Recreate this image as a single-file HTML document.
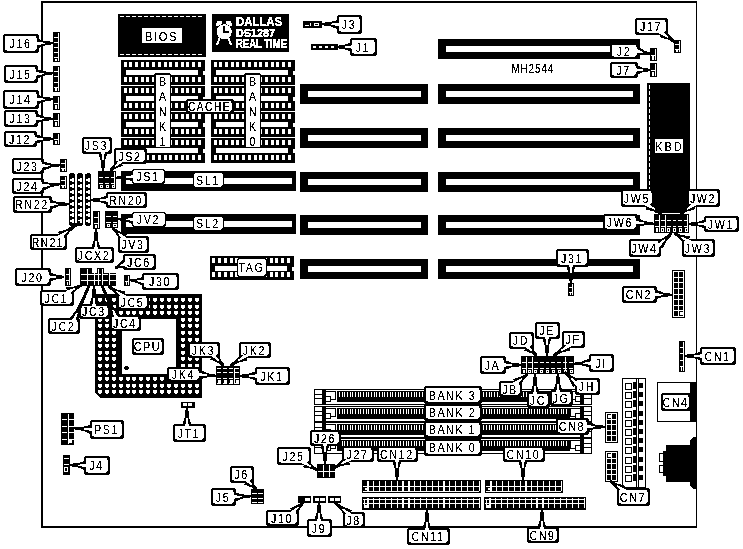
<!DOCTYPE html>
<html><head><meta charset="utf-8"><style>
html,body{margin:0;padding:0;background:#fff;}
svg{display:block;font-family:"Liberation Sans",sans-serif;}
</style></head><body>
<svg width="743" height="549" viewBox="0 0 743 549" shape-rendering="crispEdges">
<defs><filter id="th" x="0" y="0" width="743" height="549" filterUnits="userSpaceOnUse" color-interpolation-filters="sRGB"><feColorMatrix type="matrix" values="0 0 0 0 0  0 0 0 0 0  0 0 0 0 0  0 0 0 1 0"/><feComponentTransfer><feFuncA type="discrete" tableValues="0 0 1 1 1"/></feComponentTransfer></filter>
<filter id="thw" x="0" y="0" width="743" height="549" filterUnits="userSpaceOnUse" color-interpolation-filters="sRGB"><feColorMatrix type="matrix" values="0 0 0 0 1  0 0 0 0 1  0 0 0 0 1  0 0 0 1 0"/><feComponentTransfer><feFuncA type="discrete" tableValues="0 1 1 1 1"/></feComponentTransfer></filter></defs>
<rect x="0" y="0" width="743" height="549" fill="#fff"/>
<rect x="41.00" y="1.00" width="656.00" height="2.00" fill="#000" />
<rect x="41.00" y="1.00" width="2.00" height="527.00" fill="#000" />
<rect x="696.00" y="1.00" width="1.00" height="527.00" fill="#000" />
<rect x="41.00" y="526.00" width="656.00" height="2.00" fill="#000" />
<rect x="438.00" y="39.00" width="202.00" height="20.00" fill="#000" />
<rect x="446.00" y="46.00" width="187.00" height="6.00" fill="#fff" />
<rect x="438.00" y="84.00" width="202.00" height="20.00" fill="#000" />
<rect x="446.00" y="91.00" width="187.00" height="6.00" fill="#fff" />
<rect x="438.00" y="128.00" width="202.00" height="20.00" fill="#000" />
<rect x="446.00" y="135.00" width="187.00" height="6.00" fill="#fff" />
<rect x="438.00" y="172.00" width="202.00" height="20.00" fill="#000" />
<rect x="446.00" y="179.00" width="187.00" height="6.00" fill="#fff" />
<rect x="438.00" y="215.00" width="202.00" height="20.00" fill="#000" />
<rect x="446.00" y="222.00" width="187.00" height="6.00" fill="#fff" />
<rect x="438.00" y="259.00" width="202.00" height="20.00" fill="#000" />
<rect x="446.00" y="266.00" width="187.00" height="6.00" fill="#fff" />
<rect x="300.00" y="84.00" width="128.00" height="20.00" fill="#000" />
<rect x="308.00" y="91.00" width="113.00" height="6.00" fill="#fff" />
<rect x="300.00" y="128.00" width="128.00" height="20.00" fill="#000" />
<rect x="308.00" y="135.00" width="113.00" height="6.00" fill="#fff" />
<rect x="300.00" y="172.00" width="128.00" height="20.00" fill="#000" />
<rect x="308.00" y="179.00" width="113.00" height="6.00" fill="#fff" />
<rect x="300.00" y="215.00" width="128.00" height="20.00" fill="#000" />
<rect x="308.00" y="222.00" width="113.00" height="6.00" fill="#fff" />
<rect x="300.00" y="259.00" width="128.00" height="20.00" fill="#000" />
<rect x="308.00" y="266.00" width="113.00" height="6.00" fill="#fff" />
<rect x="121.00" y="171.00" width="175.00" height="20.00" fill="#000" />
<rect x="126.00" y="178.00" width="166.00" height="6.00" fill="#fff" />
<rect x="121.00" y="214.00" width="175.00" height="20.00" fill="#000" />
<rect x="126.00" y="221.00" width="166.00" height="6.00" fill="#fff" />
<rect x="118.00" y="14.00" width="88.00" height="43.00" fill="#000" />
<rect x="120.00" y="16.00" width="4.00" height="1.00" fill="#fff" />
<rect x="120.00" y="54.00" width="4.00" height="1.00" fill="#fff" />
<rect x="126.00" y="16.00" width="4.00" height="1.00" fill="#fff" />
<rect x="126.00" y="54.00" width="4.00" height="1.00" fill="#fff" />
<rect x="132.00" y="16.00" width="4.00" height="1.00" fill="#fff" />
<rect x="132.00" y="54.00" width="4.00" height="1.00" fill="#fff" />
<rect x="138.00" y="16.00" width="4.00" height="1.00" fill="#fff" />
<rect x="138.00" y="54.00" width="4.00" height="1.00" fill="#fff" />
<rect x="144.00" y="16.00" width="4.00" height="1.00" fill="#fff" />
<rect x="144.00" y="54.00" width="4.00" height="1.00" fill="#fff" />
<rect x="150.00" y="16.00" width="4.00" height="1.00" fill="#fff" />
<rect x="150.00" y="54.00" width="4.00" height="1.00" fill="#fff" />
<rect x="156.00" y="16.00" width="4.00" height="1.00" fill="#fff" />
<rect x="156.00" y="54.00" width="4.00" height="1.00" fill="#fff" />
<rect x="162.00" y="16.00" width="4.00" height="1.00" fill="#fff" />
<rect x="162.00" y="54.00" width="4.00" height="1.00" fill="#fff" />
<rect x="168.00" y="16.00" width="4.00" height="1.00" fill="#fff" />
<rect x="168.00" y="54.00" width="4.00" height="1.00" fill="#fff" />
<rect x="174.00" y="16.00" width="4.00" height="1.00" fill="#fff" />
<rect x="174.00" y="54.00" width="4.00" height="1.00" fill="#fff" />
<rect x="180.00" y="16.00" width="4.00" height="1.00" fill="#fff" />
<rect x="180.00" y="54.00" width="4.00" height="1.00" fill="#fff" />
<rect x="186.00" y="16.00" width="4.00" height="1.00" fill="#fff" />
<rect x="186.00" y="54.00" width="4.00" height="1.00" fill="#fff" />
<rect x="192.00" y="16.00" width="4.00" height="1.00" fill="#fff" />
<rect x="192.00" y="54.00" width="4.00" height="1.00" fill="#fff" />
<rect x="198.00" y="16.00" width="4.00" height="1.00" fill="#fff" />
<rect x="198.00" y="54.00" width="4.00" height="1.00" fill="#fff" />
<rect x="142.00" y="28.00" width="40.00" height="15.00" fill="#fff" />
<rect x="212.00" y="14.00" width="77.00" height="38.00" fill="#000" />
<circle cx="224.2" cy="31.8" r="7.6" fill="#fff"/>
<rect x="223.00" y="26.00" width="2.00" height="7.00" fill="#000" />
<rect x="224.00" y="31.00" width="5.00" height="2.00" fill="#000" />
<polygon points="215.50,26.00 217.00,21.50 221.50,21.00 222.00,23.50 218.50,26.00" fill="#fff" />
<polygon points="232.50,26.00 231.00,21.50 226.50,21.00 226.00,23.50 229.50,26.00" fill="#fff" />
<line x1="219.5" y1="38" x2="217" y2="45" stroke="#fff" stroke-width="2"/>
<line x1="228.5" y1="38" x2="231" y2="45" stroke="#fff" stroke-width="2"/>
<rect x="121.00" y="60.00" width="84.00" height="25.00" fill="#000" />
<rect x="124.00" y="62.00" width="3.00" height="5.00" fill="#fff" />
<rect x="124.00" y="77.00" width="3.00" height="5.00" fill="#fff" />
<rect x="129.00" y="62.00" width="3.00" height="5.00" fill="#fff" />
<rect x="129.00" y="77.00" width="3.00" height="5.00" fill="#fff" />
<rect x="135.00" y="62.00" width="3.00" height="5.00" fill="#fff" />
<rect x="135.00" y="77.00" width="3.00" height="5.00" fill="#fff" />
<rect x="141.00" y="62.00" width="3.00" height="5.00" fill="#fff" />
<rect x="141.00" y="77.00" width="3.00" height="5.00" fill="#fff" />
<rect x="146.00" y="62.00" width="3.00" height="5.00" fill="#fff" />
<rect x="146.00" y="77.00" width="3.00" height="5.00" fill="#fff" />
<rect x="152.00" y="62.00" width="3.00" height="5.00" fill="#fff" />
<rect x="152.00" y="77.00" width="3.00" height="5.00" fill="#fff" />
<rect x="158.00" y="62.00" width="3.00" height="5.00" fill="#fff" />
<rect x="158.00" y="77.00" width="3.00" height="5.00" fill="#fff" />
<rect x="164.00" y="62.00" width="3.00" height="5.00" fill="#fff" />
<rect x="164.00" y="77.00" width="3.00" height="5.00" fill="#fff" />
<rect x="169.00" y="62.00" width="3.00" height="5.00" fill="#fff" />
<rect x="169.00" y="77.00" width="3.00" height="5.00" fill="#fff" />
<rect x="175.00" y="62.00" width="3.00" height="5.00" fill="#fff" />
<rect x="175.00" y="77.00" width="3.00" height="5.00" fill="#fff" />
<rect x="181.00" y="62.00" width="3.00" height="5.00" fill="#fff" />
<rect x="181.00" y="77.00" width="3.00" height="5.00" fill="#fff" />
<rect x="186.00" y="62.00" width="3.00" height="5.00" fill="#fff" />
<rect x="186.00" y="77.00" width="3.00" height="5.00" fill="#fff" />
<rect x="192.00" y="62.00" width="3.00" height="5.00" fill="#fff" />
<rect x="192.00" y="77.00" width="3.00" height="5.00" fill="#fff" />
<rect x="198.00" y="62.00" width="3.00" height="5.00" fill="#fff" />
<rect x="198.00" y="77.00" width="3.00" height="5.00" fill="#fff" />
<rect x="126.00" y="70.00" width="72.00" height="5.00" fill="#fff" />
<rect x="203.00" y="70.50" width="2.00" height="4.00" fill="#fff" />
<rect x="211.00" y="60.00" width="84.00" height="25.00" fill="#000" />
<rect x="214.00" y="62.00" width="3.00" height="5.00" fill="#fff" />
<rect x="214.00" y="77.00" width="3.00" height="5.00" fill="#fff" />
<rect x="219.00" y="62.00" width="3.00" height="5.00" fill="#fff" />
<rect x="219.00" y="77.00" width="3.00" height="5.00" fill="#fff" />
<rect x="225.00" y="62.00" width="3.00" height="5.00" fill="#fff" />
<rect x="225.00" y="77.00" width="3.00" height="5.00" fill="#fff" />
<rect x="231.00" y="62.00" width="3.00" height="5.00" fill="#fff" />
<rect x="231.00" y="77.00" width="3.00" height="5.00" fill="#fff" />
<rect x="236.00" y="62.00" width="3.00" height="5.00" fill="#fff" />
<rect x="236.00" y="77.00" width="3.00" height="5.00" fill="#fff" />
<rect x="242.00" y="62.00" width="3.00" height="5.00" fill="#fff" />
<rect x="242.00" y="77.00" width="3.00" height="5.00" fill="#fff" />
<rect x="248.00" y="62.00" width="3.00" height="5.00" fill="#fff" />
<rect x="248.00" y="77.00" width="3.00" height="5.00" fill="#fff" />
<rect x="254.00" y="62.00" width="3.00" height="5.00" fill="#fff" />
<rect x="254.00" y="77.00" width="3.00" height="5.00" fill="#fff" />
<rect x="259.00" y="62.00" width="3.00" height="5.00" fill="#fff" />
<rect x="259.00" y="77.00" width="3.00" height="5.00" fill="#fff" />
<rect x="265.00" y="62.00" width="3.00" height="5.00" fill="#fff" />
<rect x="265.00" y="77.00" width="3.00" height="5.00" fill="#fff" />
<rect x="271.00" y="62.00" width="3.00" height="5.00" fill="#fff" />
<rect x="271.00" y="77.00" width="3.00" height="5.00" fill="#fff" />
<rect x="276.00" y="62.00" width="3.00" height="5.00" fill="#fff" />
<rect x="276.00" y="77.00" width="3.00" height="5.00" fill="#fff" />
<rect x="282.00" y="62.00" width="3.00" height="5.00" fill="#fff" />
<rect x="282.00" y="77.00" width="3.00" height="5.00" fill="#fff" />
<rect x="288.00" y="62.00" width="3.00" height="5.00" fill="#fff" />
<rect x="288.00" y="77.00" width="3.00" height="5.00" fill="#fff" />
<rect x="216.00" y="70.00" width="72.00" height="5.00" fill="#fff" />
<rect x="293.00" y="70.50" width="2.00" height="4.00" fill="#fff" />
<rect x="121.00" y="86.00" width="84.00" height="25.00" fill="#000" />
<rect x="124.00" y="88.00" width="3.00" height="5.00" fill="#fff" />
<rect x="124.00" y="103.00" width="3.00" height="5.00" fill="#fff" />
<rect x="129.00" y="88.00" width="3.00" height="5.00" fill="#fff" />
<rect x="129.00" y="103.00" width="3.00" height="5.00" fill="#fff" />
<rect x="135.00" y="88.00" width="3.00" height="5.00" fill="#fff" />
<rect x="135.00" y="103.00" width="3.00" height="5.00" fill="#fff" />
<rect x="141.00" y="88.00" width="3.00" height="5.00" fill="#fff" />
<rect x="141.00" y="103.00" width="3.00" height="5.00" fill="#fff" />
<rect x="146.00" y="88.00" width="3.00" height="5.00" fill="#fff" />
<rect x="146.00" y="103.00" width="3.00" height="5.00" fill="#fff" />
<rect x="152.00" y="88.00" width="3.00" height="5.00" fill="#fff" />
<rect x="152.00" y="103.00" width="3.00" height="5.00" fill="#fff" />
<rect x="158.00" y="88.00" width="3.00" height="5.00" fill="#fff" />
<rect x="158.00" y="103.00" width="3.00" height="5.00" fill="#fff" />
<rect x="164.00" y="88.00" width="3.00" height="5.00" fill="#fff" />
<rect x="164.00" y="103.00" width="3.00" height="5.00" fill="#fff" />
<rect x="169.00" y="88.00" width="3.00" height="5.00" fill="#fff" />
<rect x="169.00" y="103.00" width="3.00" height="5.00" fill="#fff" />
<rect x="175.00" y="88.00" width="3.00" height="5.00" fill="#fff" />
<rect x="175.00" y="103.00" width="3.00" height="5.00" fill="#fff" />
<rect x="181.00" y="88.00" width="3.00" height="5.00" fill="#fff" />
<rect x="181.00" y="103.00" width="3.00" height="5.00" fill="#fff" />
<rect x="186.00" y="88.00" width="3.00" height="5.00" fill="#fff" />
<rect x="186.00" y="103.00" width="3.00" height="5.00" fill="#fff" />
<rect x="192.00" y="88.00" width="3.00" height="5.00" fill="#fff" />
<rect x="192.00" y="103.00" width="3.00" height="5.00" fill="#fff" />
<rect x="198.00" y="88.00" width="3.00" height="5.00" fill="#fff" />
<rect x="198.00" y="103.00" width="3.00" height="5.00" fill="#fff" />
<rect x="126.00" y="96.00" width="72.00" height="5.00" fill="#fff" />
<rect x="203.00" y="96.50" width="2.00" height="4.00" fill="#fff" />
<rect x="211.00" y="86.00" width="84.00" height="25.00" fill="#000" />
<rect x="214.00" y="88.00" width="3.00" height="5.00" fill="#fff" />
<rect x="214.00" y="103.00" width="3.00" height="5.00" fill="#fff" />
<rect x="219.00" y="88.00" width="3.00" height="5.00" fill="#fff" />
<rect x="219.00" y="103.00" width="3.00" height="5.00" fill="#fff" />
<rect x="225.00" y="88.00" width="3.00" height="5.00" fill="#fff" />
<rect x="225.00" y="103.00" width="3.00" height="5.00" fill="#fff" />
<rect x="231.00" y="88.00" width="3.00" height="5.00" fill="#fff" />
<rect x="231.00" y="103.00" width="3.00" height="5.00" fill="#fff" />
<rect x="236.00" y="88.00" width="3.00" height="5.00" fill="#fff" />
<rect x="236.00" y="103.00" width="3.00" height="5.00" fill="#fff" />
<rect x="242.00" y="88.00" width="3.00" height="5.00" fill="#fff" />
<rect x="242.00" y="103.00" width="3.00" height="5.00" fill="#fff" />
<rect x="248.00" y="88.00" width="3.00" height="5.00" fill="#fff" />
<rect x="248.00" y="103.00" width="3.00" height="5.00" fill="#fff" />
<rect x="254.00" y="88.00" width="3.00" height="5.00" fill="#fff" />
<rect x="254.00" y="103.00" width="3.00" height="5.00" fill="#fff" />
<rect x="259.00" y="88.00" width="3.00" height="5.00" fill="#fff" />
<rect x="259.00" y="103.00" width="3.00" height="5.00" fill="#fff" />
<rect x="265.00" y="88.00" width="3.00" height="5.00" fill="#fff" />
<rect x="265.00" y="103.00" width="3.00" height="5.00" fill="#fff" />
<rect x="271.00" y="88.00" width="3.00" height="5.00" fill="#fff" />
<rect x="271.00" y="103.00" width="3.00" height="5.00" fill="#fff" />
<rect x="276.00" y="88.00" width="3.00" height="5.00" fill="#fff" />
<rect x="276.00" y="103.00" width="3.00" height="5.00" fill="#fff" />
<rect x="282.00" y="88.00" width="3.00" height="5.00" fill="#fff" />
<rect x="282.00" y="103.00" width="3.00" height="5.00" fill="#fff" />
<rect x="288.00" y="88.00" width="3.00" height="5.00" fill="#fff" />
<rect x="288.00" y="103.00" width="3.00" height="5.00" fill="#fff" />
<rect x="216.00" y="96.00" width="72.00" height="5.00" fill="#fff" />
<rect x="293.00" y="96.50" width="2.00" height="4.00" fill="#fff" />
<rect x="121.00" y="112.00" width="84.00" height="25.00" fill="#000" />
<rect x="124.00" y="114.00" width="3.00" height="5.00" fill="#fff" />
<rect x="124.00" y="129.00" width="3.00" height="5.00" fill="#fff" />
<rect x="129.00" y="114.00" width="3.00" height="5.00" fill="#fff" />
<rect x="129.00" y="129.00" width="3.00" height="5.00" fill="#fff" />
<rect x="135.00" y="114.00" width="3.00" height="5.00" fill="#fff" />
<rect x="135.00" y="129.00" width="3.00" height="5.00" fill="#fff" />
<rect x="141.00" y="114.00" width="3.00" height="5.00" fill="#fff" />
<rect x="141.00" y="129.00" width="3.00" height="5.00" fill="#fff" />
<rect x="146.00" y="114.00" width="3.00" height="5.00" fill="#fff" />
<rect x="146.00" y="129.00" width="3.00" height="5.00" fill="#fff" />
<rect x="152.00" y="114.00" width="3.00" height="5.00" fill="#fff" />
<rect x="152.00" y="129.00" width="3.00" height="5.00" fill="#fff" />
<rect x="158.00" y="114.00" width="3.00" height="5.00" fill="#fff" />
<rect x="158.00" y="129.00" width="3.00" height="5.00" fill="#fff" />
<rect x="164.00" y="114.00" width="3.00" height="5.00" fill="#fff" />
<rect x="164.00" y="129.00" width="3.00" height="5.00" fill="#fff" />
<rect x="169.00" y="114.00" width="3.00" height="5.00" fill="#fff" />
<rect x="169.00" y="129.00" width="3.00" height="5.00" fill="#fff" />
<rect x="175.00" y="114.00" width="3.00" height="5.00" fill="#fff" />
<rect x="175.00" y="129.00" width="3.00" height="5.00" fill="#fff" />
<rect x="181.00" y="114.00" width="3.00" height="5.00" fill="#fff" />
<rect x="181.00" y="129.00" width="3.00" height="5.00" fill="#fff" />
<rect x="186.00" y="114.00" width="3.00" height="5.00" fill="#fff" />
<rect x="186.00" y="129.00" width="3.00" height="5.00" fill="#fff" />
<rect x="192.00" y="114.00" width="3.00" height="5.00" fill="#fff" />
<rect x="192.00" y="129.00" width="3.00" height="5.00" fill="#fff" />
<rect x="198.00" y="114.00" width="3.00" height="5.00" fill="#fff" />
<rect x="198.00" y="129.00" width="3.00" height="5.00" fill="#fff" />
<rect x="126.00" y="122.00" width="72.00" height="5.00" fill="#fff" />
<rect x="203.00" y="122.50" width="2.00" height="4.00" fill="#fff" />
<rect x="211.00" y="112.00" width="84.00" height="25.00" fill="#000" />
<rect x="214.00" y="114.00" width="3.00" height="5.00" fill="#fff" />
<rect x="214.00" y="129.00" width="3.00" height="5.00" fill="#fff" />
<rect x="219.00" y="114.00" width="3.00" height="5.00" fill="#fff" />
<rect x="219.00" y="129.00" width="3.00" height="5.00" fill="#fff" />
<rect x="225.00" y="114.00" width="3.00" height="5.00" fill="#fff" />
<rect x="225.00" y="129.00" width="3.00" height="5.00" fill="#fff" />
<rect x="231.00" y="114.00" width="3.00" height="5.00" fill="#fff" />
<rect x="231.00" y="129.00" width="3.00" height="5.00" fill="#fff" />
<rect x="236.00" y="114.00" width="3.00" height="5.00" fill="#fff" />
<rect x="236.00" y="129.00" width="3.00" height="5.00" fill="#fff" />
<rect x="242.00" y="114.00" width="3.00" height="5.00" fill="#fff" />
<rect x="242.00" y="129.00" width="3.00" height="5.00" fill="#fff" />
<rect x="248.00" y="114.00" width="3.00" height="5.00" fill="#fff" />
<rect x="248.00" y="129.00" width="3.00" height="5.00" fill="#fff" />
<rect x="254.00" y="114.00" width="3.00" height="5.00" fill="#fff" />
<rect x="254.00" y="129.00" width="3.00" height="5.00" fill="#fff" />
<rect x="259.00" y="114.00" width="3.00" height="5.00" fill="#fff" />
<rect x="259.00" y="129.00" width="3.00" height="5.00" fill="#fff" />
<rect x="265.00" y="114.00" width="3.00" height="5.00" fill="#fff" />
<rect x="265.00" y="129.00" width="3.00" height="5.00" fill="#fff" />
<rect x="271.00" y="114.00" width="3.00" height="5.00" fill="#fff" />
<rect x="271.00" y="129.00" width="3.00" height="5.00" fill="#fff" />
<rect x="276.00" y="114.00" width="3.00" height="5.00" fill="#fff" />
<rect x="276.00" y="129.00" width="3.00" height="5.00" fill="#fff" />
<rect x="282.00" y="114.00" width="3.00" height="5.00" fill="#fff" />
<rect x="282.00" y="129.00" width="3.00" height="5.00" fill="#fff" />
<rect x="288.00" y="114.00" width="3.00" height="5.00" fill="#fff" />
<rect x="288.00" y="129.00" width="3.00" height="5.00" fill="#fff" />
<rect x="216.00" y="122.00" width="72.00" height="5.00" fill="#fff" />
<rect x="293.00" y="122.50" width="2.00" height="4.00" fill="#fff" />
<rect x="121.00" y="138.00" width="84.00" height="25.00" fill="#000" />
<rect x="124.00" y="140.00" width="3.00" height="5.00" fill="#fff" />
<rect x="124.00" y="155.00" width="3.00" height="5.00" fill="#fff" />
<rect x="129.00" y="140.00" width="3.00" height="5.00" fill="#fff" />
<rect x="129.00" y="155.00" width="3.00" height="5.00" fill="#fff" />
<rect x="135.00" y="140.00" width="3.00" height="5.00" fill="#fff" />
<rect x="135.00" y="155.00" width="3.00" height="5.00" fill="#fff" />
<rect x="141.00" y="140.00" width="3.00" height="5.00" fill="#fff" />
<rect x="141.00" y="155.00" width="3.00" height="5.00" fill="#fff" />
<rect x="146.00" y="140.00" width="3.00" height="5.00" fill="#fff" />
<rect x="146.00" y="155.00" width="3.00" height="5.00" fill="#fff" />
<rect x="152.00" y="140.00" width="3.00" height="5.00" fill="#fff" />
<rect x="152.00" y="155.00" width="3.00" height="5.00" fill="#fff" />
<rect x="158.00" y="140.00" width="3.00" height="5.00" fill="#fff" />
<rect x="158.00" y="155.00" width="3.00" height="5.00" fill="#fff" />
<rect x="164.00" y="140.00" width="3.00" height="5.00" fill="#fff" />
<rect x="164.00" y="155.00" width="3.00" height="5.00" fill="#fff" />
<rect x="169.00" y="140.00" width="3.00" height="5.00" fill="#fff" />
<rect x="169.00" y="155.00" width="3.00" height="5.00" fill="#fff" />
<rect x="175.00" y="140.00" width="3.00" height="5.00" fill="#fff" />
<rect x="175.00" y="155.00" width="3.00" height="5.00" fill="#fff" />
<rect x="181.00" y="140.00" width="3.00" height="5.00" fill="#fff" />
<rect x="181.00" y="155.00" width="3.00" height="5.00" fill="#fff" />
<rect x="186.00" y="140.00" width="3.00" height="5.00" fill="#fff" />
<rect x="186.00" y="155.00" width="3.00" height="5.00" fill="#fff" />
<rect x="192.00" y="140.00" width="3.00" height="5.00" fill="#fff" />
<rect x="192.00" y="155.00" width="3.00" height="5.00" fill="#fff" />
<rect x="198.00" y="140.00" width="3.00" height="5.00" fill="#fff" />
<rect x="198.00" y="155.00" width="3.00" height="5.00" fill="#fff" />
<rect x="126.00" y="148.00" width="72.00" height="5.00" fill="#fff" />
<rect x="203.00" y="148.50" width="2.00" height="4.00" fill="#fff" />
<rect x="211.00" y="138.00" width="84.00" height="25.00" fill="#000" />
<rect x="214.00" y="140.00" width="3.00" height="5.00" fill="#fff" />
<rect x="214.00" y="155.00" width="3.00" height="5.00" fill="#fff" />
<rect x="219.00" y="140.00" width="3.00" height="5.00" fill="#fff" />
<rect x="219.00" y="155.00" width="3.00" height="5.00" fill="#fff" />
<rect x="225.00" y="140.00" width="3.00" height="5.00" fill="#fff" />
<rect x="225.00" y="155.00" width="3.00" height="5.00" fill="#fff" />
<rect x="231.00" y="140.00" width="3.00" height="5.00" fill="#fff" />
<rect x="231.00" y="155.00" width="3.00" height="5.00" fill="#fff" />
<rect x="236.00" y="140.00" width="3.00" height="5.00" fill="#fff" />
<rect x="236.00" y="155.00" width="3.00" height="5.00" fill="#fff" />
<rect x="242.00" y="140.00" width="3.00" height="5.00" fill="#fff" />
<rect x="242.00" y="155.00" width="3.00" height="5.00" fill="#fff" />
<rect x="248.00" y="140.00" width="3.00" height="5.00" fill="#fff" />
<rect x="248.00" y="155.00" width="3.00" height="5.00" fill="#fff" />
<rect x="254.00" y="140.00" width="3.00" height="5.00" fill="#fff" />
<rect x="254.00" y="155.00" width="3.00" height="5.00" fill="#fff" />
<rect x="259.00" y="140.00" width="3.00" height="5.00" fill="#fff" />
<rect x="259.00" y="155.00" width="3.00" height="5.00" fill="#fff" />
<rect x="265.00" y="140.00" width="3.00" height="5.00" fill="#fff" />
<rect x="265.00" y="155.00" width="3.00" height="5.00" fill="#fff" />
<rect x="271.00" y="140.00" width="3.00" height="5.00" fill="#fff" />
<rect x="271.00" y="155.00" width="3.00" height="5.00" fill="#fff" />
<rect x="276.00" y="140.00" width="3.00" height="5.00" fill="#fff" />
<rect x="276.00" y="155.00" width="3.00" height="5.00" fill="#fff" />
<rect x="282.00" y="140.00" width="3.00" height="5.00" fill="#fff" />
<rect x="282.00" y="155.00" width="3.00" height="5.00" fill="#fff" />
<rect x="288.00" y="140.00" width="3.00" height="5.00" fill="#fff" />
<rect x="288.00" y="155.00" width="3.00" height="5.00" fill="#fff" />
<rect x="216.00" y="148.00" width="72.00" height="5.00" fill="#fff" />
<rect x="293.00" y="148.50" width="2.00" height="4.00" fill="#fff" />
<rect x="647.00" y="83.00" width="43.00" height="122.00" fill="#000" />
<polygon points="647.00,205.00 690.00,205.00 682.00,213.00 655.00,213.00" fill="#000" />
<rect x="649.00" y="85.00" width="1.00" height="4.00" fill="#fff" />
<rect x="649.00" y="91.00" width="1.00" height="4.00" fill="#fff" />
<rect x="649.00" y="97.00" width="1.00" height="4.00" fill="#fff" />
<rect x="649.00" y="103.00" width="1.00" height="4.00" fill="#fff" />
<rect x="649.00" y="109.00" width="1.00" height="4.00" fill="#fff" />
<rect x="649.00" y="115.00" width="1.00" height="4.00" fill="#fff" />
<rect x="649.00" y="121.00" width="1.00" height="4.00" fill="#fff" />
<rect x="649.00" y="127.00" width="1.00" height="4.00" fill="#fff" />
<rect x="649.00" y="133.00" width="1.00" height="4.00" fill="#fff" />
<rect x="649.00" y="139.00" width="1.00" height="4.00" fill="#fff" />
<rect x="649.00" y="145.00" width="1.00" height="4.00" fill="#fff" />
<rect x="649.00" y="151.00" width="1.00" height="4.00" fill="#fff" />
<rect x="649.00" y="157.00" width="1.00" height="4.00" fill="#fff" />
<rect x="649.00" y="163.00" width="1.00" height="4.00" fill="#fff" />
<rect x="649.00" y="169.00" width="1.00" height="4.00" fill="#fff" />
<rect x="649.00" y="175.00" width="1.00" height="4.00" fill="#fff" />
<rect x="649.00" y="181.00" width="1.00" height="4.00" fill="#fff" />
<rect x="649.00" y="187.00" width="1.00" height="4.00" fill="#fff" />
<rect x="649.00" y="193.00" width="1.00" height="4.00" fill="#fff" />
<rect x="649.00" y="199.00" width="1.00" height="4.00" fill="#fff" />
<rect x="655.00" y="139.00" width="28.00" height="14.00" fill="#fff" />
<rect x="95.00" y="294.00" width="107.00" height="104.00" fill="#000" />
<rect x="122.00" y="319.00" width="54.00" height="55.00" fill="#fff" />
<rect x="98.00" y="298.00" width="4.00" height="3.00" fill="#fff" />
<rect x="99.00" y="297.50" width="2.00" height="4.00" fill="#fff" />
<rect x="105.00" y="298.00" width="4.00" height="3.00" fill="#fff" />
<rect x="106.00" y="297.50" width="2.00" height="4.00" fill="#fff" />
<rect x="112.00" y="298.00" width="4.00" height="3.00" fill="#fff" />
<rect x="113.00" y="297.50" width="2.00" height="4.00" fill="#fff" />
<rect x="119.00" y="298.00" width="4.00" height="3.00" fill="#fff" />
<rect x="120.00" y="297.50" width="2.00" height="4.00" fill="#fff" />
<rect x="126.00" y="298.00" width="4.00" height="3.00" fill="#fff" />
<rect x="127.00" y="297.50" width="2.00" height="4.00" fill="#fff" />
<rect x="132.00" y="298.00" width="4.00" height="3.00" fill="#fff" />
<rect x="133.00" y="297.50" width="2.00" height="4.00" fill="#fff" />
<rect x="139.00" y="298.00" width="4.00" height="3.00" fill="#fff" />
<rect x="140.00" y="297.50" width="2.00" height="4.00" fill="#fff" />
<rect x="146.00" y="298.00" width="4.00" height="3.00" fill="#fff" />
<rect x="147.00" y="297.50" width="2.00" height="4.00" fill="#fff" />
<rect x="153.00" y="298.00" width="4.00" height="3.00" fill="#fff" />
<rect x="154.00" y="297.50" width="2.00" height="4.00" fill="#fff" />
<rect x="160.00" y="298.00" width="4.00" height="3.00" fill="#fff" />
<rect x="161.00" y="297.50" width="2.00" height="4.00" fill="#fff" />
<rect x="167.00" y="298.00" width="4.00" height="3.00" fill="#fff" />
<rect x="168.00" y="297.50" width="2.00" height="4.00" fill="#fff" />
<rect x="174.00" y="298.00" width="4.00" height="3.00" fill="#fff" />
<rect x="175.00" y="297.50" width="2.00" height="4.00" fill="#fff" />
<rect x="181.00" y="298.00" width="4.00" height="3.00" fill="#fff" />
<rect x="182.00" y="297.50" width="2.00" height="4.00" fill="#fff" />
<rect x="188.00" y="298.00" width="4.00" height="3.00" fill="#fff" />
<rect x="189.00" y="297.50" width="2.00" height="4.00" fill="#fff" />
<rect x="195.00" y="298.00" width="4.00" height="3.00" fill="#fff" />
<rect x="196.00" y="297.50" width="2.00" height="4.00" fill="#fff" />
<rect x="98.00" y="305.00" width="4.00" height="3.00" fill="#fff" />
<rect x="99.00" y="304.50" width="2.00" height="4.00" fill="#fff" />
<rect x="105.00" y="305.00" width="4.00" height="3.00" fill="#fff" />
<rect x="106.00" y="304.50" width="2.00" height="4.00" fill="#fff" />
<rect x="112.00" y="305.00" width="4.00" height="3.00" fill="#fff" />
<rect x="113.00" y="304.50" width="2.00" height="4.00" fill="#fff" />
<rect x="119.00" y="305.00" width="4.00" height="3.00" fill="#fff" />
<rect x="120.00" y="304.50" width="2.00" height="4.00" fill="#fff" />
<rect x="126.00" y="305.00" width="4.00" height="3.00" fill="#fff" />
<rect x="127.00" y="304.50" width="2.00" height="4.00" fill="#fff" />
<rect x="132.00" y="305.00" width="4.00" height="3.00" fill="#fff" />
<rect x="133.00" y="304.50" width="2.00" height="4.00" fill="#fff" />
<rect x="139.00" y="305.00" width="4.00" height="3.00" fill="#fff" />
<rect x="140.00" y="304.50" width="2.00" height="4.00" fill="#fff" />
<rect x="146.00" y="305.00" width="4.00" height="3.00" fill="#fff" />
<rect x="147.00" y="304.50" width="2.00" height="4.00" fill="#fff" />
<rect x="153.00" y="305.00" width="4.00" height="3.00" fill="#fff" />
<rect x="154.00" y="304.50" width="2.00" height="4.00" fill="#fff" />
<rect x="160.00" y="305.00" width="4.00" height="3.00" fill="#fff" />
<rect x="161.00" y="304.50" width="2.00" height="4.00" fill="#fff" />
<rect x="167.00" y="305.00" width="4.00" height="3.00" fill="#fff" />
<rect x="168.00" y="304.50" width="2.00" height="4.00" fill="#fff" />
<rect x="174.00" y="305.00" width="4.00" height="3.00" fill="#fff" />
<rect x="175.00" y="304.50" width="2.00" height="4.00" fill="#fff" />
<rect x="181.00" y="305.00" width="4.00" height="3.00" fill="#fff" />
<rect x="182.00" y="304.50" width="2.00" height="4.00" fill="#fff" />
<rect x="188.00" y="305.00" width="4.00" height="3.00" fill="#fff" />
<rect x="189.00" y="304.50" width="2.00" height="4.00" fill="#fff" />
<rect x="195.00" y="305.00" width="4.00" height="3.00" fill="#fff" />
<rect x="196.00" y="304.50" width="2.00" height="4.00" fill="#fff" />
<rect x="98.00" y="311.00" width="4.00" height="3.00" fill="#fff" />
<rect x="99.00" y="310.50" width="2.00" height="4.00" fill="#fff" />
<rect x="105.00" y="311.00" width="4.00" height="3.00" fill="#fff" />
<rect x="106.00" y="310.50" width="2.00" height="4.00" fill="#fff" />
<rect x="112.00" y="311.00" width="4.00" height="3.00" fill="#fff" />
<rect x="113.00" y="310.50" width="2.00" height="4.00" fill="#fff" />
<rect x="119.00" y="311.00" width="4.00" height="3.00" fill="#fff" />
<rect x="120.00" y="310.50" width="2.00" height="4.00" fill="#fff" />
<rect x="126.00" y="311.00" width="4.00" height="3.00" fill="#fff" />
<rect x="127.00" y="310.50" width="2.00" height="4.00" fill="#fff" />
<rect x="132.00" y="311.00" width="4.00" height="3.00" fill="#fff" />
<rect x="133.00" y="310.50" width="2.00" height="4.00" fill="#fff" />
<rect x="139.00" y="311.00" width="4.00" height="3.00" fill="#fff" />
<rect x="140.00" y="310.50" width="2.00" height="4.00" fill="#fff" />
<rect x="146.00" y="311.00" width="4.00" height="3.00" fill="#fff" />
<rect x="147.00" y="310.50" width="2.00" height="4.00" fill="#fff" />
<rect x="153.00" y="311.00" width="4.00" height="3.00" fill="#fff" />
<rect x="154.00" y="310.50" width="2.00" height="4.00" fill="#fff" />
<rect x="160.00" y="311.00" width="4.00" height="3.00" fill="#fff" />
<rect x="161.00" y="310.50" width="2.00" height="4.00" fill="#fff" />
<rect x="167.00" y="311.00" width="4.00" height="3.00" fill="#fff" />
<rect x="168.00" y="310.50" width="2.00" height="4.00" fill="#fff" />
<rect x="174.00" y="311.00" width="4.00" height="3.00" fill="#fff" />
<rect x="175.00" y="310.50" width="2.00" height="4.00" fill="#fff" />
<rect x="181.00" y="311.00" width="4.00" height="3.00" fill="#fff" />
<rect x="182.00" y="310.50" width="2.00" height="4.00" fill="#fff" />
<rect x="188.00" y="311.00" width="4.00" height="3.00" fill="#fff" />
<rect x="189.00" y="310.50" width="2.00" height="4.00" fill="#fff" />
<rect x="195.00" y="311.00" width="4.00" height="3.00" fill="#fff" />
<rect x="196.00" y="310.50" width="2.00" height="4.00" fill="#fff" />
<rect x="98.00" y="318.00" width="4.00" height="3.00" fill="#fff" />
<rect x="99.00" y="317.50" width="2.00" height="4.00" fill="#fff" />
<rect x="105.00" y="318.00" width="4.00" height="3.00" fill="#fff" />
<rect x="106.00" y="317.50" width="2.00" height="4.00" fill="#fff" />
<rect x="112.00" y="318.00" width="4.00" height="3.00" fill="#fff" />
<rect x="113.00" y="317.50" width="2.00" height="4.00" fill="#fff" />
<rect x="181.00" y="318.00" width="4.00" height="3.00" fill="#fff" />
<rect x="182.00" y="317.50" width="2.00" height="4.00" fill="#fff" />
<rect x="188.00" y="318.00" width="4.00" height="3.00" fill="#fff" />
<rect x="189.00" y="317.50" width="2.00" height="4.00" fill="#fff" />
<rect x="195.00" y="318.00" width="4.00" height="3.00" fill="#fff" />
<rect x="196.00" y="317.50" width="2.00" height="4.00" fill="#fff" />
<rect x="98.00" y="324.00" width="4.00" height="3.00" fill="#fff" />
<rect x="99.00" y="323.50" width="2.00" height="4.00" fill="#fff" />
<rect x="105.00" y="324.00" width="4.00" height="3.00" fill="#fff" />
<rect x="106.00" y="323.50" width="2.00" height="4.00" fill="#fff" />
<rect x="112.00" y="324.00" width="4.00" height="3.00" fill="#fff" />
<rect x="113.00" y="323.50" width="2.00" height="4.00" fill="#fff" />
<rect x="181.00" y="324.00" width="4.00" height="3.00" fill="#fff" />
<rect x="182.00" y="323.50" width="2.00" height="4.00" fill="#fff" />
<rect x="188.00" y="324.00" width="4.00" height="3.00" fill="#fff" />
<rect x="189.00" y="323.50" width="2.00" height="4.00" fill="#fff" />
<rect x="195.00" y="324.00" width="4.00" height="3.00" fill="#fff" />
<rect x="196.00" y="323.50" width="2.00" height="4.00" fill="#fff" />
<rect x="98.00" y="331.00" width="4.00" height="3.00" fill="#fff" />
<rect x="99.00" y="330.50" width="2.00" height="4.00" fill="#fff" />
<rect x="105.00" y="331.00" width="4.00" height="3.00" fill="#fff" />
<rect x="106.00" y="330.50" width="2.00" height="4.00" fill="#fff" />
<rect x="112.00" y="331.00" width="4.00" height="3.00" fill="#fff" />
<rect x="113.00" y="330.50" width="2.00" height="4.00" fill="#fff" />
<rect x="181.00" y="331.00" width="4.00" height="3.00" fill="#fff" />
<rect x="182.00" y="330.50" width="2.00" height="4.00" fill="#fff" />
<rect x="188.00" y="331.00" width="4.00" height="3.00" fill="#fff" />
<rect x="189.00" y="330.50" width="2.00" height="4.00" fill="#fff" />
<rect x="195.00" y="331.00" width="4.00" height="3.00" fill="#fff" />
<rect x="196.00" y="330.50" width="2.00" height="4.00" fill="#fff" />
<rect x="98.00" y="338.00" width="4.00" height="3.00" fill="#fff" />
<rect x="99.00" y="337.50" width="2.00" height="4.00" fill="#fff" />
<rect x="105.00" y="338.00" width="4.00" height="3.00" fill="#fff" />
<rect x="106.00" y="337.50" width="2.00" height="4.00" fill="#fff" />
<rect x="112.00" y="338.00" width="4.00" height="3.00" fill="#fff" />
<rect x="113.00" y="337.50" width="2.00" height="4.00" fill="#fff" />
<rect x="181.00" y="338.00" width="4.00" height="3.00" fill="#fff" />
<rect x="182.00" y="337.50" width="2.00" height="4.00" fill="#fff" />
<rect x="188.00" y="338.00" width="4.00" height="3.00" fill="#fff" />
<rect x="189.00" y="337.50" width="2.00" height="4.00" fill="#fff" />
<rect x="195.00" y="338.00" width="4.00" height="3.00" fill="#fff" />
<rect x="196.00" y="337.50" width="2.00" height="4.00" fill="#fff" />
<rect x="98.00" y="344.00" width="4.00" height="3.00" fill="#fff" />
<rect x="99.00" y="343.50" width="2.00" height="4.00" fill="#fff" />
<rect x="105.00" y="344.00" width="4.00" height="3.00" fill="#fff" />
<rect x="106.00" y="343.50" width="2.00" height="4.00" fill="#fff" />
<rect x="112.00" y="344.00" width="4.00" height="3.00" fill="#fff" />
<rect x="113.00" y="343.50" width="2.00" height="4.00" fill="#fff" />
<rect x="181.00" y="344.00" width="4.00" height="3.00" fill="#fff" />
<rect x="182.00" y="343.50" width="2.00" height="4.00" fill="#fff" />
<rect x="188.00" y="344.00" width="4.00" height="3.00" fill="#fff" />
<rect x="189.00" y="343.50" width="2.00" height="4.00" fill="#fff" />
<rect x="195.00" y="344.00" width="4.00" height="3.00" fill="#fff" />
<rect x="196.00" y="343.50" width="2.00" height="4.00" fill="#fff" />
<rect x="98.00" y="351.00" width="4.00" height="3.00" fill="#fff" />
<rect x="99.00" y="350.50" width="2.00" height="4.00" fill="#fff" />
<rect x="105.00" y="351.00" width="4.00" height="3.00" fill="#fff" />
<rect x="106.00" y="350.50" width="2.00" height="4.00" fill="#fff" />
<rect x="112.00" y="351.00" width="4.00" height="3.00" fill="#fff" />
<rect x="113.00" y="350.50" width="2.00" height="4.00" fill="#fff" />
<rect x="181.00" y="351.00" width="4.00" height="3.00" fill="#fff" />
<rect x="182.00" y="350.50" width="2.00" height="4.00" fill="#fff" />
<rect x="188.00" y="351.00" width="4.00" height="3.00" fill="#fff" />
<rect x="189.00" y="350.50" width="2.00" height="4.00" fill="#fff" />
<rect x="195.00" y="351.00" width="4.00" height="3.00" fill="#fff" />
<rect x="196.00" y="350.50" width="2.00" height="4.00" fill="#fff" />
<rect x="98.00" y="357.00" width="4.00" height="3.00" fill="#fff" />
<rect x="99.00" y="356.50" width="2.00" height="4.00" fill="#fff" />
<rect x="105.00" y="357.00" width="4.00" height="3.00" fill="#fff" />
<rect x="106.00" y="356.50" width="2.00" height="4.00" fill="#fff" />
<rect x="112.00" y="357.00" width="4.00" height="3.00" fill="#fff" />
<rect x="113.00" y="356.50" width="2.00" height="4.00" fill="#fff" />
<rect x="181.00" y="357.00" width="4.00" height="3.00" fill="#fff" />
<rect x="182.00" y="356.50" width="2.00" height="4.00" fill="#fff" />
<rect x="188.00" y="357.00" width="4.00" height="3.00" fill="#fff" />
<rect x="189.00" y="356.50" width="2.00" height="4.00" fill="#fff" />
<rect x="195.00" y="357.00" width="4.00" height="3.00" fill="#fff" />
<rect x="196.00" y="356.50" width="2.00" height="4.00" fill="#fff" />
<rect x="98.00" y="364.00" width="4.00" height="3.00" fill="#fff" />
<rect x="99.00" y="363.50" width="2.00" height="4.00" fill="#fff" />
<rect x="105.00" y="364.00" width="4.00" height="3.00" fill="#fff" />
<rect x="106.00" y="363.50" width="2.00" height="4.00" fill="#fff" />
<rect x="112.00" y="364.00" width="4.00" height="3.00" fill="#fff" />
<rect x="113.00" y="363.50" width="2.00" height="4.00" fill="#fff" />
<rect x="181.00" y="364.00" width="4.00" height="3.00" fill="#fff" />
<rect x="182.00" y="363.50" width="2.00" height="4.00" fill="#fff" />
<rect x="188.00" y="364.00" width="4.00" height="3.00" fill="#fff" />
<rect x="189.00" y="363.50" width="2.00" height="4.00" fill="#fff" />
<rect x="195.00" y="364.00" width="4.00" height="3.00" fill="#fff" />
<rect x="196.00" y="363.50" width="2.00" height="4.00" fill="#fff" />
<rect x="98.00" y="371.00" width="4.00" height="3.00" fill="#fff" />
<rect x="99.00" y="370.50" width="2.00" height="4.00" fill="#fff" />
<rect x="105.00" y="371.00" width="4.00" height="3.00" fill="#fff" />
<rect x="106.00" y="370.50" width="2.00" height="4.00" fill="#fff" />
<rect x="112.00" y="371.00" width="4.00" height="3.00" fill="#fff" />
<rect x="113.00" y="370.50" width="2.00" height="4.00" fill="#fff" />
<rect x="181.00" y="371.00" width="4.00" height="3.00" fill="#fff" />
<rect x="182.00" y="370.50" width="2.00" height="4.00" fill="#fff" />
<rect x="188.00" y="371.00" width="4.00" height="3.00" fill="#fff" />
<rect x="189.00" y="370.50" width="2.00" height="4.00" fill="#fff" />
<rect x="195.00" y="371.00" width="4.00" height="3.00" fill="#fff" />
<rect x="196.00" y="370.50" width="2.00" height="4.00" fill="#fff" />
<rect x="98.00" y="377.00" width="4.00" height="3.00" fill="#fff" />
<rect x="99.00" y="376.50" width="2.00" height="4.00" fill="#fff" />
<rect x="105.00" y="377.00" width="4.00" height="3.00" fill="#fff" />
<rect x="106.00" y="376.50" width="2.00" height="4.00" fill="#fff" />
<rect x="112.00" y="377.00" width="4.00" height="3.00" fill="#fff" />
<rect x="113.00" y="376.50" width="2.00" height="4.00" fill="#fff" />
<rect x="119.00" y="377.00" width="4.00" height="3.00" fill="#fff" />
<rect x="120.00" y="376.50" width="2.00" height="4.00" fill="#fff" />
<rect x="126.00" y="377.00" width="4.00" height="3.00" fill="#fff" />
<rect x="127.00" y="376.50" width="2.00" height="4.00" fill="#fff" />
<rect x="132.00" y="377.00" width="4.00" height="3.00" fill="#fff" />
<rect x="133.00" y="376.50" width="2.00" height="4.00" fill="#fff" />
<rect x="139.00" y="377.00" width="4.00" height="3.00" fill="#fff" />
<rect x="140.00" y="376.50" width="2.00" height="4.00" fill="#fff" />
<rect x="146.00" y="377.00" width="4.00" height="3.00" fill="#fff" />
<rect x="147.00" y="376.50" width="2.00" height="4.00" fill="#fff" />
<rect x="153.00" y="377.00" width="4.00" height="3.00" fill="#fff" />
<rect x="154.00" y="376.50" width="2.00" height="4.00" fill="#fff" />
<rect x="160.00" y="377.00" width="4.00" height="3.00" fill="#fff" />
<rect x="161.00" y="376.50" width="2.00" height="4.00" fill="#fff" />
<rect x="167.00" y="377.00" width="4.00" height="3.00" fill="#fff" />
<rect x="168.00" y="376.50" width="2.00" height="4.00" fill="#fff" />
<rect x="174.00" y="377.00" width="4.00" height="3.00" fill="#fff" />
<rect x="175.00" y="376.50" width="2.00" height="4.00" fill="#fff" />
<rect x="181.00" y="377.00" width="4.00" height="3.00" fill="#fff" />
<rect x="182.00" y="376.50" width="2.00" height="4.00" fill="#fff" />
<rect x="188.00" y="377.00" width="4.00" height="3.00" fill="#fff" />
<rect x="189.00" y="376.50" width="2.00" height="4.00" fill="#fff" />
<rect x="195.00" y="377.00" width="4.00" height="3.00" fill="#fff" />
<rect x="196.00" y="376.50" width="2.00" height="4.00" fill="#fff" />
<rect x="98.00" y="384.00" width="4.00" height="3.00" fill="#fff" />
<rect x="99.00" y="383.50" width="2.00" height="4.00" fill="#fff" />
<rect x="105.00" y="384.00" width="4.00" height="3.00" fill="#fff" />
<rect x="106.00" y="383.50" width="2.00" height="4.00" fill="#fff" />
<rect x="112.00" y="384.00" width="4.00" height="3.00" fill="#fff" />
<rect x="113.00" y="383.50" width="2.00" height="4.00" fill="#fff" />
<rect x="119.00" y="384.00" width="4.00" height="3.00" fill="#fff" />
<rect x="120.00" y="383.50" width="2.00" height="4.00" fill="#fff" />
<rect x="126.00" y="384.00" width="4.00" height="3.00" fill="#fff" />
<rect x="127.00" y="383.50" width="2.00" height="4.00" fill="#fff" />
<rect x="132.00" y="384.00" width="4.00" height="3.00" fill="#fff" />
<rect x="133.00" y="383.50" width="2.00" height="4.00" fill="#fff" />
<rect x="139.00" y="384.00" width="4.00" height="3.00" fill="#fff" />
<rect x="140.00" y="383.50" width="2.00" height="4.00" fill="#fff" />
<rect x="146.00" y="384.00" width="4.00" height="3.00" fill="#fff" />
<rect x="147.00" y="383.50" width="2.00" height="4.00" fill="#fff" />
<rect x="153.00" y="384.00" width="4.00" height="3.00" fill="#fff" />
<rect x="154.00" y="383.50" width="2.00" height="4.00" fill="#fff" />
<rect x="160.00" y="384.00" width="4.00" height="3.00" fill="#fff" />
<rect x="161.00" y="383.50" width="2.00" height="4.00" fill="#fff" />
<rect x="167.00" y="384.00" width="4.00" height="3.00" fill="#fff" />
<rect x="168.00" y="383.50" width="2.00" height="4.00" fill="#fff" />
<rect x="174.00" y="384.00" width="4.00" height="3.00" fill="#fff" />
<rect x="175.00" y="383.50" width="2.00" height="4.00" fill="#fff" />
<rect x="181.00" y="384.00" width="4.00" height="3.00" fill="#fff" />
<rect x="182.00" y="383.50" width="2.00" height="4.00" fill="#fff" />
<rect x="188.00" y="384.00" width="4.00" height="3.00" fill="#fff" />
<rect x="189.00" y="383.50" width="2.00" height="4.00" fill="#fff" />
<rect x="195.00" y="384.00" width="4.00" height="3.00" fill="#fff" />
<rect x="196.00" y="383.50" width="2.00" height="4.00" fill="#fff" />
<rect x="98.00" y="390.00" width="4.00" height="3.00" fill="#fff" />
<rect x="99.00" y="389.50" width="2.00" height="4.00" fill="#fff" />
<rect x="105.00" y="390.00" width="4.00" height="3.00" fill="#fff" />
<rect x="106.00" y="389.50" width="2.00" height="4.00" fill="#fff" />
<rect x="112.00" y="390.00" width="4.00" height="3.00" fill="#fff" />
<rect x="113.00" y="389.50" width="2.00" height="4.00" fill="#fff" />
<rect x="119.00" y="390.00" width="4.00" height="3.00" fill="#fff" />
<rect x="120.00" y="389.50" width="2.00" height="4.00" fill="#fff" />
<rect x="126.00" y="390.00" width="4.00" height="3.00" fill="#fff" />
<rect x="127.00" y="389.50" width="2.00" height="4.00" fill="#fff" />
<rect x="132.00" y="390.00" width="4.00" height="3.00" fill="#fff" />
<rect x="133.00" y="389.50" width="2.00" height="4.00" fill="#fff" />
<rect x="139.00" y="390.00" width="4.00" height="3.00" fill="#fff" />
<rect x="140.00" y="389.50" width="2.00" height="4.00" fill="#fff" />
<rect x="146.00" y="390.00" width="4.00" height="3.00" fill="#fff" />
<rect x="147.00" y="389.50" width="2.00" height="4.00" fill="#fff" />
<rect x="153.00" y="390.00" width="4.00" height="3.00" fill="#fff" />
<rect x="154.00" y="389.50" width="2.00" height="4.00" fill="#fff" />
<rect x="160.00" y="390.00" width="4.00" height="3.00" fill="#fff" />
<rect x="161.00" y="389.50" width="2.00" height="4.00" fill="#fff" />
<rect x="167.00" y="390.00" width="4.00" height="3.00" fill="#fff" />
<rect x="168.00" y="389.50" width="2.00" height="4.00" fill="#fff" />
<rect x="174.00" y="390.00" width="4.00" height="3.00" fill="#fff" />
<rect x="175.00" y="389.50" width="2.00" height="4.00" fill="#fff" />
<rect x="181.00" y="390.00" width="4.00" height="3.00" fill="#fff" />
<rect x="182.00" y="389.50" width="2.00" height="4.00" fill="#fff" />
<rect x="188.00" y="390.00" width="4.00" height="3.00" fill="#fff" />
<rect x="189.00" y="389.50" width="2.00" height="4.00" fill="#fff" />
<rect x="195.00" y="390.00" width="4.00" height="3.00" fill="#fff" />
<rect x="196.00" y="389.50" width="2.00" height="4.00" fill="#fff" />
<polygon points="94.00,392.00 94.00,399.00 101.00,399.00" fill="#fff" />
<circle cx="126.5" cy="368" r="2.2" fill="#000"/>
<rect x="210.00" y="256.00" width="84.00" height="24.00" fill="#000" />
<rect x="212.00" y="258.00" width="3.00" height="5.00" fill="#fff" />
<rect x="212.00" y="272.00" width="3.00" height="5.00" fill="#fff" />
<rect x="218.00" y="258.00" width="3.00" height="5.00" fill="#fff" />
<rect x="218.00" y="272.00" width="3.00" height="5.00" fill="#fff" />
<rect x="224.00" y="258.00" width="3.00" height="5.00" fill="#fff" />
<rect x="224.00" y="272.00" width="3.00" height="5.00" fill="#fff" />
<rect x="230.00" y="258.00" width="3.00" height="5.00" fill="#fff" />
<rect x="230.00" y="272.00" width="3.00" height="5.00" fill="#fff" />
<rect x="235.00" y="258.00" width="3.00" height="5.00" fill="#fff" />
<rect x="235.00" y="272.00" width="3.00" height="5.00" fill="#fff" />
<rect x="241.00" y="258.00" width="3.00" height="5.00" fill="#fff" />
<rect x="241.00" y="272.00" width="3.00" height="5.00" fill="#fff" />
<rect x="247.00" y="258.00" width="3.00" height="5.00" fill="#fff" />
<rect x="247.00" y="272.00" width="3.00" height="5.00" fill="#fff" />
<rect x="252.00" y="258.00" width="3.00" height="5.00" fill="#fff" />
<rect x="252.00" y="272.00" width="3.00" height="5.00" fill="#fff" />
<rect x="258.00" y="258.00" width="3.00" height="5.00" fill="#fff" />
<rect x="258.00" y="272.00" width="3.00" height="5.00" fill="#fff" />
<rect x="264.00" y="258.00" width="3.00" height="5.00" fill="#fff" />
<rect x="264.00" y="272.00" width="3.00" height="5.00" fill="#fff" />
<rect x="270.00" y="258.00" width="3.00" height="5.00" fill="#fff" />
<rect x="270.00" y="272.00" width="3.00" height="5.00" fill="#fff" />
<rect x="275.00" y="258.00" width="3.00" height="5.00" fill="#fff" />
<rect x="275.00" y="272.00" width="3.00" height="5.00" fill="#fff" />
<rect x="281.00" y="258.00" width="3.00" height="5.00" fill="#fff" />
<rect x="281.00" y="272.00" width="3.00" height="5.00" fill="#fff" />
<rect x="287.00" y="258.00" width="3.00" height="5.00" fill="#fff" />
<rect x="287.00" y="272.00" width="3.00" height="5.00" fill="#fff" />
<rect x="215.00" y="266.00" width="72.00" height="5.00" fill="#fff" />
<rect x="292.00" y="266.50" width="2.00" height="4.00" fill="#fff" />
<rect x="314.00" y="389.00" width="278.00" height="16.00" fill="#000" />
<rect x="315.00" y="390.00" width="276.00" height="14.00" fill="#fff" />
<rect x="315.00" y="394.00" width="7.00" height="1.00" fill="#000" />
<rect x="315.00" y="398.00" width="7.00" height="1.00" fill="#000" />
<rect x="322.00" y="390.00" width="4.00" height="14.00" fill="#000" />
<rect x="326.00" y="391.00" width="10.00" height="1.00" fill="#000" />
<rect x="335.00" y="391.00" width="1.00" height="9.00" fill="#000" />
<rect x="330.00" y="399.00" width="6.00" height="1.00" fill="#000" />
<rect x="330.00" y="399.00" width="1.00" height="3.00" fill="#000" />
<rect x="326.00" y="401.00" width="5.00" height="1.00" fill="#000" />
<rect x="326.00" y="396.00" width="5.00" height="1.00" fill="#000" />
<rect x="330.00" y="396.00" width="1.00" height="3.00" fill="#000" />
<rect x="337.00" y="391.00" width="233.00" height="11.00" fill="#000" />
<rect x="339.00" y="392.00" width="1.00" height="5.00" fill="#fff" />
<rect x="342.00" y="392.00" width="1.00" height="5.00" fill="#fff" />
<rect x="344.00" y="392.00" width="1.00" height="5.00" fill="#fff" />
<rect x="347.00" y="392.00" width="1.00" height="5.00" fill="#fff" />
<rect x="350.00" y="392.00" width="1.00" height="5.00" fill="#fff" />
<rect x="352.00" y="392.00" width="1.00" height="5.00" fill="#fff" />
<rect x="355.00" y="392.00" width="1.00" height="5.00" fill="#fff" />
<rect x="358.00" y="392.00" width="1.00" height="5.00" fill="#fff" />
<rect x="360.00" y="392.00" width="1.00" height="5.00" fill="#fff" />
<rect x="363.00" y="392.00" width="1.00" height="5.00" fill="#fff" />
<rect x="366.00" y="392.00" width="1.00" height="5.00" fill="#fff" />
<rect x="368.00" y="392.00" width="1.00" height="5.00" fill="#fff" />
<rect x="371.00" y="392.00" width="1.00" height="5.00" fill="#fff" />
<rect x="374.00" y="392.00" width="1.00" height="5.00" fill="#fff" />
<rect x="376.00" y="392.00" width="1.00" height="5.00" fill="#fff" />
<rect x="379.00" y="392.00" width="1.00" height="5.00" fill="#fff" />
<rect x="382.00" y="392.00" width="1.00" height="5.00" fill="#fff" />
<rect x="384.00" y="392.00" width="1.00" height="5.00" fill="#fff" />
<rect x="387.00" y="392.00" width="1.00" height="5.00" fill="#fff" />
<rect x="390.00" y="392.00" width="1.00" height="5.00" fill="#fff" />
<rect x="392.00" y="392.00" width="1.00" height="5.00" fill="#fff" />
<rect x="395.00" y="392.00" width="1.00" height="5.00" fill="#fff" />
<rect x="398.00" y="392.00" width="1.00" height="5.00" fill="#fff" />
<rect x="400.00" y="392.00" width="1.00" height="5.00" fill="#fff" />
<rect x="403.00" y="392.00" width="1.00" height="5.00" fill="#fff" />
<rect x="406.00" y="392.00" width="1.00" height="5.00" fill="#fff" />
<rect x="408.00" y="392.00" width="1.00" height="5.00" fill="#fff" />
<rect x="411.00" y="392.00" width="1.00" height="5.00" fill="#fff" />
<rect x="414.00" y="392.00" width="1.00" height="5.00" fill="#fff" />
<rect x="416.00" y="392.00" width="1.00" height="5.00" fill="#fff" />
<rect x="419.00" y="392.00" width="1.00" height="5.00" fill="#fff" />
<rect x="422.00" y="392.00" width="1.00" height="5.00" fill="#fff" />
<rect x="424.00" y="392.00" width="1.00" height="5.00" fill="#fff" />
<rect x="427.00" y="392.00" width="1.00" height="5.00" fill="#fff" />
<rect x="430.00" y="392.00" width="1.00" height="5.00" fill="#fff" />
<rect x="432.00" y="392.00" width="1.00" height="5.00" fill="#fff" />
<rect x="435.00" y="392.00" width="1.00" height="5.00" fill="#fff" />
<rect x="438.00" y="392.00" width="1.00" height="5.00" fill="#fff" />
<rect x="440.00" y="392.00" width="1.00" height="5.00" fill="#fff" />
<rect x="443.00" y="392.00" width="1.00" height="5.00" fill="#fff" />
<rect x="446.00" y="392.00" width="1.00" height="5.00" fill="#fff" />
<rect x="448.00" y="392.00" width="1.00" height="5.00" fill="#fff" />
<rect x="451.00" y="392.00" width="1.00" height="5.00" fill="#fff" />
<rect x="454.00" y="392.00" width="1.00" height="5.00" fill="#fff" />
<rect x="456.00" y="392.00" width="1.00" height="5.00" fill="#fff" />
<rect x="459.00" y="392.00" width="1.00" height="5.00" fill="#fff" />
<rect x="462.00" y="392.00" width="1.00" height="5.00" fill="#fff" />
<rect x="464.00" y="392.00" width="1.00" height="5.00" fill="#fff" />
<rect x="467.00" y="392.00" width="1.00" height="5.00" fill="#fff" />
<rect x="470.00" y="392.00" width="1.00" height="5.00" fill="#fff" />
<rect x="472.00" y="392.00" width="1.00" height="5.00" fill="#fff" />
<rect x="475.00" y="392.00" width="1.00" height="5.00" fill="#fff" />
<rect x="478.00" y="392.00" width="1.00" height="5.00" fill="#fff" />
<rect x="481.00" y="392.00" width="1.00" height="5.00" fill="#fff" />
<rect x="483.00" y="392.00" width="1.00" height="5.00" fill="#fff" />
<rect x="486.00" y="392.00" width="1.00" height="5.00" fill="#fff" />
<rect x="489.00" y="392.00" width="1.00" height="5.00" fill="#fff" />
<rect x="491.00" y="392.00" width="1.00" height="5.00" fill="#fff" />
<rect x="494.00" y="392.00" width="1.00" height="5.00" fill="#fff" />
<rect x="497.00" y="392.00" width="1.00" height="5.00" fill="#fff" />
<rect x="499.00" y="392.00" width="1.00" height="5.00" fill="#fff" />
<rect x="502.00" y="392.00" width="1.00" height="5.00" fill="#fff" />
<rect x="505.00" y="392.00" width="1.00" height="5.00" fill="#fff" />
<rect x="507.00" y="392.00" width="1.00" height="5.00" fill="#fff" />
<rect x="510.00" y="392.00" width="1.00" height="5.00" fill="#fff" />
<rect x="513.00" y="392.00" width="1.00" height="5.00" fill="#fff" />
<rect x="515.00" y="392.00" width="1.00" height="5.00" fill="#fff" />
<rect x="518.00" y="392.00" width="1.00" height="5.00" fill="#fff" />
<rect x="521.00" y="392.00" width="1.00" height="5.00" fill="#fff" />
<rect x="523.00" y="392.00" width="1.00" height="5.00" fill="#fff" />
<rect x="526.00" y="392.00" width="1.00" height="5.00" fill="#fff" />
<rect x="529.00" y="392.00" width="1.00" height="5.00" fill="#fff" />
<rect x="531.00" y="392.00" width="1.00" height="5.00" fill="#fff" />
<rect x="534.00" y="392.00" width="1.00" height="5.00" fill="#fff" />
<rect x="537.00" y="392.00" width="1.00" height="5.00" fill="#fff" />
<rect x="539.00" y="392.00" width="1.00" height="5.00" fill="#fff" />
<rect x="542.00" y="392.00" width="1.00" height="5.00" fill="#fff" />
<rect x="545.00" y="392.00" width="1.00" height="5.00" fill="#fff" />
<rect x="547.00" y="392.00" width="1.00" height="5.00" fill="#fff" />
<rect x="550.00" y="392.00" width="1.00" height="5.00" fill="#fff" />
<rect x="553.00" y="392.00" width="1.00" height="5.00" fill="#fff" />
<rect x="555.00" y="392.00" width="1.00" height="5.00" fill="#fff" />
<rect x="558.00" y="392.00" width="1.00" height="5.00" fill="#fff" />
<rect x="561.00" y="392.00" width="1.00" height="5.00" fill="#fff" />
<rect x="563.00" y="392.00" width="1.00" height="5.00" fill="#fff" />
<rect x="566.00" y="392.00" width="1.00" height="5.00" fill="#fff" />
<rect x="570.00" y="391.00" width="10.00" height="1.00" fill="#000" />
<rect x="570.00" y="391.00" width="1.00" height="9.00" fill="#000" />
<rect x="570.00" y="399.00" width="6.00" height="1.00" fill="#000" />
<rect x="575.00" y="399.00" width="1.00" height="3.00" fill="#000" />
<rect x="575.00" y="401.00" width="5.00" height="1.00" fill="#000" />
<rect x="575.00" y="396.00" width="5.00" height="1.00" fill="#000" />
<rect x="575.00" y="396.00" width="1.00" height="3.00" fill="#000" />
<rect x="580.00" y="390.00" width="4.00" height="14.00" fill="#000" />
<rect x="584.00" y="394.00" width="7.00" height="1.00" fill="#000" />
<rect x="584.00" y="398.00" width="7.00" height="1.00" fill="#000" />
<rect x="314.00" y="406.00" width="278.00" height="16.00" fill="#000" />
<rect x="315.00" y="407.00" width="276.00" height="14.00" fill="#fff" />
<rect x="315.00" y="411.00" width="7.00" height="1.00" fill="#000" />
<rect x="315.00" y="415.00" width="7.00" height="1.00" fill="#000" />
<rect x="322.00" y="407.00" width="4.00" height="14.00" fill="#000" />
<rect x="326.00" y="408.00" width="10.00" height="1.00" fill="#000" />
<rect x="335.00" y="408.00" width="1.00" height="9.00" fill="#000" />
<rect x="330.00" y="416.00" width="6.00" height="1.00" fill="#000" />
<rect x="330.00" y="416.00" width="1.00" height="3.00" fill="#000" />
<rect x="326.00" y="418.00" width="5.00" height="1.00" fill="#000" />
<rect x="326.00" y="413.00" width="5.00" height="1.00" fill="#000" />
<rect x="330.00" y="413.00" width="1.00" height="3.00" fill="#000" />
<rect x="337.00" y="408.00" width="233.00" height="11.00" fill="#000" />
<rect x="339.00" y="409.00" width="1.00" height="5.00" fill="#fff" />
<rect x="342.00" y="409.00" width="1.00" height="5.00" fill="#fff" />
<rect x="344.00" y="409.00" width="1.00" height="5.00" fill="#fff" />
<rect x="347.00" y="409.00" width="1.00" height="5.00" fill="#fff" />
<rect x="350.00" y="409.00" width="1.00" height="5.00" fill="#fff" />
<rect x="352.00" y="409.00" width="1.00" height="5.00" fill="#fff" />
<rect x="355.00" y="409.00" width="1.00" height="5.00" fill="#fff" />
<rect x="358.00" y="409.00" width="1.00" height="5.00" fill="#fff" />
<rect x="360.00" y="409.00" width="1.00" height="5.00" fill="#fff" />
<rect x="363.00" y="409.00" width="1.00" height="5.00" fill="#fff" />
<rect x="366.00" y="409.00" width="1.00" height="5.00" fill="#fff" />
<rect x="368.00" y="409.00" width="1.00" height="5.00" fill="#fff" />
<rect x="371.00" y="409.00" width="1.00" height="5.00" fill="#fff" />
<rect x="374.00" y="409.00" width="1.00" height="5.00" fill="#fff" />
<rect x="376.00" y="409.00" width="1.00" height="5.00" fill="#fff" />
<rect x="379.00" y="409.00" width="1.00" height="5.00" fill="#fff" />
<rect x="382.00" y="409.00" width="1.00" height="5.00" fill="#fff" />
<rect x="384.00" y="409.00" width="1.00" height="5.00" fill="#fff" />
<rect x="387.00" y="409.00" width="1.00" height="5.00" fill="#fff" />
<rect x="390.00" y="409.00" width="1.00" height="5.00" fill="#fff" />
<rect x="392.00" y="409.00" width="1.00" height="5.00" fill="#fff" />
<rect x="395.00" y="409.00" width="1.00" height="5.00" fill="#fff" />
<rect x="398.00" y="409.00" width="1.00" height="5.00" fill="#fff" />
<rect x="400.00" y="409.00" width="1.00" height="5.00" fill="#fff" />
<rect x="403.00" y="409.00" width="1.00" height="5.00" fill="#fff" />
<rect x="406.00" y="409.00" width="1.00" height="5.00" fill="#fff" />
<rect x="408.00" y="409.00" width="1.00" height="5.00" fill="#fff" />
<rect x="411.00" y="409.00" width="1.00" height="5.00" fill="#fff" />
<rect x="414.00" y="409.00" width="1.00" height="5.00" fill="#fff" />
<rect x="416.00" y="409.00" width="1.00" height="5.00" fill="#fff" />
<rect x="419.00" y="409.00" width="1.00" height="5.00" fill="#fff" />
<rect x="422.00" y="409.00" width="1.00" height="5.00" fill="#fff" />
<rect x="424.00" y="409.00" width="1.00" height="5.00" fill="#fff" />
<rect x="427.00" y="409.00" width="1.00" height="5.00" fill="#fff" />
<rect x="430.00" y="409.00" width="1.00" height="5.00" fill="#fff" />
<rect x="432.00" y="409.00" width="1.00" height="5.00" fill="#fff" />
<rect x="435.00" y="409.00" width="1.00" height="5.00" fill="#fff" />
<rect x="438.00" y="409.00" width="1.00" height="5.00" fill="#fff" />
<rect x="440.00" y="409.00" width="1.00" height="5.00" fill="#fff" />
<rect x="443.00" y="409.00" width="1.00" height="5.00" fill="#fff" />
<rect x="446.00" y="409.00" width="1.00" height="5.00" fill="#fff" />
<rect x="448.00" y="409.00" width="1.00" height="5.00" fill="#fff" />
<rect x="451.00" y="409.00" width="1.00" height="5.00" fill="#fff" />
<rect x="454.00" y="409.00" width="1.00" height="5.00" fill="#fff" />
<rect x="456.00" y="409.00" width="1.00" height="5.00" fill="#fff" />
<rect x="459.00" y="409.00" width="1.00" height="5.00" fill="#fff" />
<rect x="462.00" y="409.00" width="1.00" height="5.00" fill="#fff" />
<rect x="464.00" y="409.00" width="1.00" height="5.00" fill="#fff" />
<rect x="467.00" y="409.00" width="1.00" height="5.00" fill="#fff" />
<rect x="470.00" y="409.00" width="1.00" height="5.00" fill="#fff" />
<rect x="472.00" y="409.00" width="1.00" height="5.00" fill="#fff" />
<rect x="475.00" y="409.00" width="1.00" height="5.00" fill="#fff" />
<rect x="478.00" y="409.00" width="1.00" height="5.00" fill="#fff" />
<rect x="481.00" y="409.00" width="1.00" height="5.00" fill="#fff" />
<rect x="483.00" y="409.00" width="1.00" height="5.00" fill="#fff" />
<rect x="486.00" y="409.00" width="1.00" height="5.00" fill="#fff" />
<rect x="489.00" y="409.00" width="1.00" height="5.00" fill="#fff" />
<rect x="491.00" y="409.00" width="1.00" height="5.00" fill="#fff" />
<rect x="494.00" y="409.00" width="1.00" height="5.00" fill="#fff" />
<rect x="497.00" y="409.00" width="1.00" height="5.00" fill="#fff" />
<rect x="499.00" y="409.00" width="1.00" height="5.00" fill="#fff" />
<rect x="502.00" y="409.00" width="1.00" height="5.00" fill="#fff" />
<rect x="505.00" y="409.00" width="1.00" height="5.00" fill="#fff" />
<rect x="507.00" y="409.00" width="1.00" height="5.00" fill="#fff" />
<rect x="510.00" y="409.00" width="1.00" height="5.00" fill="#fff" />
<rect x="513.00" y="409.00" width="1.00" height="5.00" fill="#fff" />
<rect x="515.00" y="409.00" width="1.00" height="5.00" fill="#fff" />
<rect x="518.00" y="409.00" width="1.00" height="5.00" fill="#fff" />
<rect x="521.00" y="409.00" width="1.00" height="5.00" fill="#fff" />
<rect x="523.00" y="409.00" width="1.00" height="5.00" fill="#fff" />
<rect x="526.00" y="409.00" width="1.00" height="5.00" fill="#fff" />
<rect x="529.00" y="409.00" width="1.00" height="5.00" fill="#fff" />
<rect x="531.00" y="409.00" width="1.00" height="5.00" fill="#fff" />
<rect x="534.00" y="409.00" width="1.00" height="5.00" fill="#fff" />
<rect x="537.00" y="409.00" width="1.00" height="5.00" fill="#fff" />
<rect x="539.00" y="409.00" width="1.00" height="5.00" fill="#fff" />
<rect x="542.00" y="409.00" width="1.00" height="5.00" fill="#fff" />
<rect x="545.00" y="409.00" width="1.00" height="5.00" fill="#fff" />
<rect x="547.00" y="409.00" width="1.00" height="5.00" fill="#fff" />
<rect x="550.00" y="409.00" width="1.00" height="5.00" fill="#fff" />
<rect x="553.00" y="409.00" width="1.00" height="5.00" fill="#fff" />
<rect x="555.00" y="409.00" width="1.00" height="5.00" fill="#fff" />
<rect x="558.00" y="409.00" width="1.00" height="5.00" fill="#fff" />
<rect x="561.00" y="409.00" width="1.00" height="5.00" fill="#fff" />
<rect x="563.00" y="409.00" width="1.00" height="5.00" fill="#fff" />
<rect x="566.00" y="409.00" width="1.00" height="5.00" fill="#fff" />
<rect x="570.00" y="408.00" width="10.00" height="1.00" fill="#000" />
<rect x="570.00" y="408.00" width="1.00" height="9.00" fill="#000" />
<rect x="570.00" y="416.00" width="6.00" height="1.00" fill="#000" />
<rect x="575.00" y="416.00" width="1.00" height="3.00" fill="#000" />
<rect x="575.00" y="418.00" width="5.00" height="1.00" fill="#000" />
<rect x="575.00" y="413.00" width="5.00" height="1.00" fill="#000" />
<rect x="575.00" y="413.00" width="1.00" height="3.00" fill="#000" />
<rect x="580.00" y="407.00" width="4.00" height="14.00" fill="#000" />
<rect x="584.00" y="411.00" width="7.00" height="1.00" fill="#000" />
<rect x="584.00" y="415.00" width="7.00" height="1.00" fill="#000" />
<rect x="314.00" y="422.00" width="278.00" height="16.00" fill="#000" />
<rect x="315.00" y="423.00" width="276.00" height="14.00" fill="#fff" />
<rect x="315.00" y="427.00" width="7.00" height="1.00" fill="#000" />
<rect x="315.00" y="431.00" width="7.00" height="1.00" fill="#000" />
<rect x="322.00" y="423.00" width="4.00" height="14.00" fill="#000" />
<rect x="326.00" y="424.00" width="10.00" height="1.00" fill="#000" />
<rect x="335.00" y="424.00" width="1.00" height="9.00" fill="#000" />
<rect x="330.00" y="432.00" width="6.00" height="1.00" fill="#000" />
<rect x="330.00" y="432.00" width="1.00" height="3.00" fill="#000" />
<rect x="326.00" y="434.00" width="5.00" height="1.00" fill="#000" />
<rect x="326.00" y="429.00" width="5.00" height="1.00" fill="#000" />
<rect x="330.00" y="429.00" width="1.00" height="3.00" fill="#000" />
<rect x="337.00" y="424.00" width="233.00" height="11.00" fill="#000" />
<rect x="339.00" y="425.00" width="1.00" height="5.00" fill="#fff" />
<rect x="342.00" y="425.00" width="1.00" height="5.00" fill="#fff" />
<rect x="344.00" y="425.00" width="1.00" height="5.00" fill="#fff" />
<rect x="347.00" y="425.00" width="1.00" height="5.00" fill="#fff" />
<rect x="350.00" y="425.00" width="1.00" height="5.00" fill="#fff" />
<rect x="352.00" y="425.00" width="1.00" height="5.00" fill="#fff" />
<rect x="355.00" y="425.00" width="1.00" height="5.00" fill="#fff" />
<rect x="358.00" y="425.00" width="1.00" height="5.00" fill="#fff" />
<rect x="360.00" y="425.00" width="1.00" height="5.00" fill="#fff" />
<rect x="363.00" y="425.00" width="1.00" height="5.00" fill="#fff" />
<rect x="366.00" y="425.00" width="1.00" height="5.00" fill="#fff" />
<rect x="368.00" y="425.00" width="1.00" height="5.00" fill="#fff" />
<rect x="371.00" y="425.00" width="1.00" height="5.00" fill="#fff" />
<rect x="374.00" y="425.00" width="1.00" height="5.00" fill="#fff" />
<rect x="376.00" y="425.00" width="1.00" height="5.00" fill="#fff" />
<rect x="379.00" y="425.00" width="1.00" height="5.00" fill="#fff" />
<rect x="382.00" y="425.00" width="1.00" height="5.00" fill="#fff" />
<rect x="384.00" y="425.00" width="1.00" height="5.00" fill="#fff" />
<rect x="387.00" y="425.00" width="1.00" height="5.00" fill="#fff" />
<rect x="390.00" y="425.00" width="1.00" height="5.00" fill="#fff" />
<rect x="392.00" y="425.00" width="1.00" height="5.00" fill="#fff" />
<rect x="395.00" y="425.00" width="1.00" height="5.00" fill="#fff" />
<rect x="398.00" y="425.00" width="1.00" height="5.00" fill="#fff" />
<rect x="400.00" y="425.00" width="1.00" height="5.00" fill="#fff" />
<rect x="403.00" y="425.00" width="1.00" height="5.00" fill="#fff" />
<rect x="406.00" y="425.00" width="1.00" height="5.00" fill="#fff" />
<rect x="408.00" y="425.00" width="1.00" height="5.00" fill="#fff" />
<rect x="411.00" y="425.00" width="1.00" height="5.00" fill="#fff" />
<rect x="414.00" y="425.00" width="1.00" height="5.00" fill="#fff" />
<rect x="416.00" y="425.00" width="1.00" height="5.00" fill="#fff" />
<rect x="419.00" y="425.00" width="1.00" height="5.00" fill="#fff" />
<rect x="422.00" y="425.00" width="1.00" height="5.00" fill="#fff" />
<rect x="424.00" y="425.00" width="1.00" height="5.00" fill="#fff" />
<rect x="427.00" y="425.00" width="1.00" height="5.00" fill="#fff" />
<rect x="430.00" y="425.00" width="1.00" height="5.00" fill="#fff" />
<rect x="432.00" y="425.00" width="1.00" height="5.00" fill="#fff" />
<rect x="435.00" y="425.00" width="1.00" height="5.00" fill="#fff" />
<rect x="438.00" y="425.00" width="1.00" height="5.00" fill="#fff" />
<rect x="440.00" y="425.00" width="1.00" height="5.00" fill="#fff" />
<rect x="443.00" y="425.00" width="1.00" height="5.00" fill="#fff" />
<rect x="446.00" y="425.00" width="1.00" height="5.00" fill="#fff" />
<rect x="448.00" y="425.00" width="1.00" height="5.00" fill="#fff" />
<rect x="451.00" y="425.00" width="1.00" height="5.00" fill="#fff" />
<rect x="454.00" y="425.00" width="1.00" height="5.00" fill="#fff" />
<rect x="456.00" y="425.00" width="1.00" height="5.00" fill="#fff" />
<rect x="459.00" y="425.00" width="1.00" height="5.00" fill="#fff" />
<rect x="462.00" y="425.00" width="1.00" height="5.00" fill="#fff" />
<rect x="464.00" y="425.00" width="1.00" height="5.00" fill="#fff" />
<rect x="467.00" y="425.00" width="1.00" height="5.00" fill="#fff" />
<rect x="470.00" y="425.00" width="1.00" height="5.00" fill="#fff" />
<rect x="472.00" y="425.00" width="1.00" height="5.00" fill="#fff" />
<rect x="475.00" y="425.00" width="1.00" height="5.00" fill="#fff" />
<rect x="478.00" y="425.00" width="1.00" height="5.00" fill="#fff" />
<rect x="481.00" y="425.00" width="1.00" height="5.00" fill="#fff" />
<rect x="483.00" y="425.00" width="1.00" height="5.00" fill="#fff" />
<rect x="486.00" y="425.00" width="1.00" height="5.00" fill="#fff" />
<rect x="489.00" y="425.00" width="1.00" height="5.00" fill="#fff" />
<rect x="491.00" y="425.00" width="1.00" height="5.00" fill="#fff" />
<rect x="494.00" y="425.00" width="1.00" height="5.00" fill="#fff" />
<rect x="497.00" y="425.00" width="1.00" height="5.00" fill="#fff" />
<rect x="499.00" y="425.00" width="1.00" height="5.00" fill="#fff" />
<rect x="502.00" y="425.00" width="1.00" height="5.00" fill="#fff" />
<rect x="505.00" y="425.00" width="1.00" height="5.00" fill="#fff" />
<rect x="507.00" y="425.00" width="1.00" height="5.00" fill="#fff" />
<rect x="510.00" y="425.00" width="1.00" height="5.00" fill="#fff" />
<rect x="513.00" y="425.00" width="1.00" height="5.00" fill="#fff" />
<rect x="515.00" y="425.00" width="1.00" height="5.00" fill="#fff" />
<rect x="518.00" y="425.00" width="1.00" height="5.00" fill="#fff" />
<rect x="521.00" y="425.00" width="1.00" height="5.00" fill="#fff" />
<rect x="523.00" y="425.00" width="1.00" height="5.00" fill="#fff" />
<rect x="526.00" y="425.00" width="1.00" height="5.00" fill="#fff" />
<rect x="529.00" y="425.00" width="1.00" height="5.00" fill="#fff" />
<rect x="531.00" y="425.00" width="1.00" height="5.00" fill="#fff" />
<rect x="534.00" y="425.00" width="1.00" height="5.00" fill="#fff" />
<rect x="537.00" y="425.00" width="1.00" height="5.00" fill="#fff" />
<rect x="539.00" y="425.00" width="1.00" height="5.00" fill="#fff" />
<rect x="542.00" y="425.00" width="1.00" height="5.00" fill="#fff" />
<rect x="545.00" y="425.00" width="1.00" height="5.00" fill="#fff" />
<rect x="547.00" y="425.00" width="1.00" height="5.00" fill="#fff" />
<rect x="550.00" y="425.00" width="1.00" height="5.00" fill="#fff" />
<rect x="553.00" y="425.00" width="1.00" height="5.00" fill="#fff" />
<rect x="555.00" y="425.00" width="1.00" height="5.00" fill="#fff" />
<rect x="558.00" y="425.00" width="1.00" height="5.00" fill="#fff" />
<rect x="561.00" y="425.00" width="1.00" height="5.00" fill="#fff" />
<rect x="563.00" y="425.00" width="1.00" height="5.00" fill="#fff" />
<rect x="566.00" y="425.00" width="1.00" height="5.00" fill="#fff" />
<rect x="570.00" y="424.00" width="10.00" height="1.00" fill="#000" />
<rect x="570.00" y="424.00" width="1.00" height="9.00" fill="#000" />
<rect x="570.00" y="432.00" width="6.00" height="1.00" fill="#000" />
<rect x="575.00" y="432.00" width="1.00" height="3.00" fill="#000" />
<rect x="575.00" y="434.00" width="5.00" height="1.00" fill="#000" />
<rect x="575.00" y="429.00" width="5.00" height="1.00" fill="#000" />
<rect x="575.00" y="429.00" width="1.00" height="3.00" fill="#000" />
<rect x="580.00" y="423.00" width="4.00" height="14.00" fill="#000" />
<rect x="584.00" y="427.00" width="7.00" height="1.00" fill="#000" />
<rect x="584.00" y="431.00" width="7.00" height="1.00" fill="#000" />
<rect x="314.00" y="438.00" width="278.00" height="16.00" fill="#000" />
<rect x="315.00" y="439.00" width="276.00" height="14.00" fill="#fff" />
<rect x="315.00" y="443.00" width="7.00" height="1.00" fill="#000" />
<rect x="315.00" y="447.00" width="7.00" height="1.00" fill="#000" />
<rect x="322.00" y="439.00" width="4.00" height="14.00" fill="#000" />
<rect x="326.00" y="440.00" width="10.00" height="1.00" fill="#000" />
<rect x="335.00" y="440.00" width="1.00" height="9.00" fill="#000" />
<rect x="330.00" y="448.00" width="6.00" height="1.00" fill="#000" />
<rect x="330.00" y="448.00" width="1.00" height="3.00" fill="#000" />
<rect x="326.00" y="450.00" width="5.00" height="1.00" fill="#000" />
<rect x="326.00" y="445.00" width="5.00" height="1.00" fill="#000" />
<rect x="330.00" y="445.00" width="1.00" height="3.00" fill="#000" />
<rect x="337.00" y="440.00" width="233.00" height="11.00" fill="#000" />
<rect x="339.00" y="441.00" width="1.00" height="5.00" fill="#fff" />
<rect x="342.00" y="441.00" width="1.00" height="5.00" fill="#fff" />
<rect x="344.00" y="441.00" width="1.00" height="5.00" fill="#fff" />
<rect x="347.00" y="441.00" width="1.00" height="5.00" fill="#fff" />
<rect x="350.00" y="441.00" width="1.00" height="5.00" fill="#fff" />
<rect x="352.00" y="441.00" width="1.00" height="5.00" fill="#fff" />
<rect x="355.00" y="441.00" width="1.00" height="5.00" fill="#fff" />
<rect x="358.00" y="441.00" width="1.00" height="5.00" fill="#fff" />
<rect x="360.00" y="441.00" width="1.00" height="5.00" fill="#fff" />
<rect x="363.00" y="441.00" width="1.00" height="5.00" fill="#fff" />
<rect x="366.00" y="441.00" width="1.00" height="5.00" fill="#fff" />
<rect x="368.00" y="441.00" width="1.00" height="5.00" fill="#fff" />
<rect x="371.00" y="441.00" width="1.00" height="5.00" fill="#fff" />
<rect x="374.00" y="441.00" width="1.00" height="5.00" fill="#fff" />
<rect x="376.00" y="441.00" width="1.00" height="5.00" fill="#fff" />
<rect x="379.00" y="441.00" width="1.00" height="5.00" fill="#fff" />
<rect x="382.00" y="441.00" width="1.00" height="5.00" fill="#fff" />
<rect x="384.00" y="441.00" width="1.00" height="5.00" fill="#fff" />
<rect x="387.00" y="441.00" width="1.00" height="5.00" fill="#fff" />
<rect x="390.00" y="441.00" width="1.00" height="5.00" fill="#fff" />
<rect x="392.00" y="441.00" width="1.00" height="5.00" fill="#fff" />
<rect x="395.00" y="441.00" width="1.00" height="5.00" fill="#fff" />
<rect x="398.00" y="441.00" width="1.00" height="5.00" fill="#fff" />
<rect x="400.00" y="441.00" width="1.00" height="5.00" fill="#fff" />
<rect x="403.00" y="441.00" width="1.00" height="5.00" fill="#fff" />
<rect x="406.00" y="441.00" width="1.00" height="5.00" fill="#fff" />
<rect x="408.00" y="441.00" width="1.00" height="5.00" fill="#fff" />
<rect x="411.00" y="441.00" width="1.00" height="5.00" fill="#fff" />
<rect x="414.00" y="441.00" width="1.00" height="5.00" fill="#fff" />
<rect x="416.00" y="441.00" width="1.00" height="5.00" fill="#fff" />
<rect x="419.00" y="441.00" width="1.00" height="5.00" fill="#fff" />
<rect x="422.00" y="441.00" width="1.00" height="5.00" fill="#fff" />
<rect x="424.00" y="441.00" width="1.00" height="5.00" fill="#fff" />
<rect x="427.00" y="441.00" width="1.00" height="5.00" fill="#fff" />
<rect x="430.00" y="441.00" width="1.00" height="5.00" fill="#fff" />
<rect x="432.00" y="441.00" width="1.00" height="5.00" fill="#fff" />
<rect x="435.00" y="441.00" width="1.00" height="5.00" fill="#fff" />
<rect x="438.00" y="441.00" width="1.00" height="5.00" fill="#fff" />
<rect x="440.00" y="441.00" width="1.00" height="5.00" fill="#fff" />
<rect x="443.00" y="441.00" width="1.00" height="5.00" fill="#fff" />
<rect x="446.00" y="441.00" width="1.00" height="5.00" fill="#fff" />
<rect x="448.00" y="441.00" width="1.00" height="5.00" fill="#fff" />
<rect x="451.00" y="441.00" width="1.00" height="5.00" fill="#fff" />
<rect x="454.00" y="441.00" width="1.00" height="5.00" fill="#fff" />
<rect x="456.00" y="441.00" width="1.00" height="5.00" fill="#fff" />
<rect x="459.00" y="441.00" width="1.00" height="5.00" fill="#fff" />
<rect x="462.00" y="441.00" width="1.00" height="5.00" fill="#fff" />
<rect x="464.00" y="441.00" width="1.00" height="5.00" fill="#fff" />
<rect x="467.00" y="441.00" width="1.00" height="5.00" fill="#fff" />
<rect x="470.00" y="441.00" width="1.00" height="5.00" fill="#fff" />
<rect x="472.00" y="441.00" width="1.00" height="5.00" fill="#fff" />
<rect x="475.00" y="441.00" width="1.00" height="5.00" fill="#fff" />
<rect x="478.00" y="441.00" width="1.00" height="5.00" fill="#fff" />
<rect x="481.00" y="441.00" width="1.00" height="5.00" fill="#fff" />
<rect x="483.00" y="441.00" width="1.00" height="5.00" fill="#fff" />
<rect x="486.00" y="441.00" width="1.00" height="5.00" fill="#fff" />
<rect x="489.00" y="441.00" width="1.00" height="5.00" fill="#fff" />
<rect x="491.00" y="441.00" width="1.00" height="5.00" fill="#fff" />
<rect x="494.00" y="441.00" width="1.00" height="5.00" fill="#fff" />
<rect x="497.00" y="441.00" width="1.00" height="5.00" fill="#fff" />
<rect x="499.00" y="441.00" width="1.00" height="5.00" fill="#fff" />
<rect x="502.00" y="441.00" width="1.00" height="5.00" fill="#fff" />
<rect x="505.00" y="441.00" width="1.00" height="5.00" fill="#fff" />
<rect x="507.00" y="441.00" width="1.00" height="5.00" fill="#fff" />
<rect x="510.00" y="441.00" width="1.00" height="5.00" fill="#fff" />
<rect x="513.00" y="441.00" width="1.00" height="5.00" fill="#fff" />
<rect x="515.00" y="441.00" width="1.00" height="5.00" fill="#fff" />
<rect x="518.00" y="441.00" width="1.00" height="5.00" fill="#fff" />
<rect x="521.00" y="441.00" width="1.00" height="5.00" fill="#fff" />
<rect x="523.00" y="441.00" width="1.00" height="5.00" fill="#fff" />
<rect x="526.00" y="441.00" width="1.00" height="5.00" fill="#fff" />
<rect x="529.00" y="441.00" width="1.00" height="5.00" fill="#fff" />
<rect x="531.00" y="441.00" width="1.00" height="5.00" fill="#fff" />
<rect x="534.00" y="441.00" width="1.00" height="5.00" fill="#fff" />
<rect x="537.00" y="441.00" width="1.00" height="5.00" fill="#fff" />
<rect x="539.00" y="441.00" width="1.00" height="5.00" fill="#fff" />
<rect x="542.00" y="441.00" width="1.00" height="5.00" fill="#fff" />
<rect x="545.00" y="441.00" width="1.00" height="5.00" fill="#fff" />
<rect x="547.00" y="441.00" width="1.00" height="5.00" fill="#fff" />
<rect x="550.00" y="441.00" width="1.00" height="5.00" fill="#fff" />
<rect x="553.00" y="441.00" width="1.00" height="5.00" fill="#fff" />
<rect x="555.00" y="441.00" width="1.00" height="5.00" fill="#fff" />
<rect x="558.00" y="441.00" width="1.00" height="5.00" fill="#fff" />
<rect x="561.00" y="441.00" width="1.00" height="5.00" fill="#fff" />
<rect x="563.00" y="441.00" width="1.00" height="5.00" fill="#fff" />
<rect x="566.00" y="441.00" width="1.00" height="5.00" fill="#fff" />
<rect x="570.00" y="440.00" width="10.00" height="1.00" fill="#000" />
<rect x="570.00" y="440.00" width="1.00" height="9.00" fill="#000" />
<rect x="570.00" y="448.00" width="6.00" height="1.00" fill="#000" />
<rect x="575.00" y="448.00" width="1.00" height="3.00" fill="#000" />
<rect x="575.00" y="450.00" width="5.00" height="1.00" fill="#000" />
<rect x="575.00" y="445.00" width="5.00" height="1.00" fill="#000" />
<rect x="575.00" y="445.00" width="1.00" height="3.00" fill="#000" />
<rect x="580.00" y="439.00" width="4.00" height="14.00" fill="#000" />
<rect x="584.00" y="443.00" width="7.00" height="1.00" fill="#000" />
<rect x="584.00" y="447.00" width="7.00" height="1.00" fill="#000" />
<rect x="362.00" y="480.00" width="119.00" height="12.50" fill="#000" />
<rect x="367.35" y="481.00" width="1.20" height="10.00" fill="#fff" />
<rect x="373.20" y="481.00" width="1.20" height="10.00" fill="#fff" />
<rect x="379.05" y="481.00" width="1.20" height="10.00" fill="#fff" />
<rect x="384.90" y="481.00" width="1.20" height="10.00" fill="#fff" />
<rect x="390.75" y="481.00" width="1.20" height="10.00" fill="#fff" />
<rect x="396.60" y="481.00" width="1.20" height="10.00" fill="#fff" />
<rect x="402.45" y="481.00" width="1.20" height="10.00" fill="#fff" />
<rect x="408.30" y="481.00" width="1.20" height="10.00" fill="#fff" />
<rect x="414.15" y="481.00" width="1.20" height="10.00" fill="#fff" />
<rect x="420.00" y="481.00" width="1.20" height="10.00" fill="#fff" />
<rect x="425.85" y="481.00" width="1.20" height="10.00" fill="#fff" />
<rect x="431.70" y="481.00" width="1.20" height="10.00" fill="#fff" />
<rect x="437.55" y="481.00" width="1.20" height="10.00" fill="#fff" />
<rect x="443.40" y="481.00" width="1.20" height="10.00" fill="#fff" />
<rect x="449.25" y="481.00" width="1.20" height="10.00" fill="#fff" />
<rect x="455.10" y="481.00" width="1.20" height="10.00" fill="#fff" />
<rect x="460.95" y="481.00" width="1.20" height="10.00" fill="#fff" />
<rect x="466.80" y="481.00" width="1.20" height="10.00" fill="#fff" />
<rect x="472.65" y="481.00" width="1.20" height="10.00" fill="#fff" />
<rect x="478.50" y="481.00" width="1.20" height="10.00" fill="#fff" />
<rect x="363.00" y="486.00" width="116.00" height="1.00" fill="#fff" />
<rect x="363.00" y="490.50" width="116.00" height="1.00" fill="#fff" />
<rect x="364.50" y="488.00" width="4.00" height="2.00" fill="#fff" />
<rect x="362.00" y="497.00" width="119.00" height="12.50" fill="#000" />
<rect x="367.35" y="498.00" width="1.20" height="10.00" fill="#fff" />
<rect x="373.20" y="498.00" width="1.20" height="10.00" fill="#fff" />
<rect x="379.05" y="498.00" width="1.20" height="10.00" fill="#fff" />
<rect x="384.90" y="498.00" width="1.20" height="10.00" fill="#fff" />
<rect x="390.75" y="498.00" width="1.20" height="10.00" fill="#fff" />
<rect x="396.60" y="498.00" width="1.20" height="10.00" fill="#fff" />
<rect x="402.45" y="498.00" width="1.20" height="10.00" fill="#fff" />
<rect x="408.30" y="498.00" width="1.20" height="10.00" fill="#fff" />
<rect x="414.15" y="498.00" width="1.20" height="10.00" fill="#fff" />
<rect x="420.00" y="498.00" width="1.20" height="10.00" fill="#fff" />
<rect x="425.85" y="498.00" width="1.20" height="10.00" fill="#fff" />
<rect x="431.70" y="498.00" width="1.20" height="10.00" fill="#fff" />
<rect x="437.55" y="498.00" width="1.20" height="10.00" fill="#fff" />
<rect x="443.40" y="498.00" width="1.20" height="10.00" fill="#fff" />
<rect x="449.25" y="498.00" width="1.20" height="10.00" fill="#fff" />
<rect x="455.10" y="498.00" width="1.20" height="10.00" fill="#fff" />
<rect x="460.95" y="498.00" width="1.20" height="10.00" fill="#fff" />
<rect x="466.80" y="498.00" width="1.20" height="10.00" fill="#fff" />
<rect x="472.65" y="498.00" width="1.20" height="10.00" fill="#fff" />
<rect x="478.50" y="498.00" width="1.20" height="10.00" fill="#fff" />
<rect x="363.00" y="503.00" width="116.00" height="1.00" fill="#fff" />
<rect x="363.00" y="498.50" width="116.00" height="1.00" fill="#fff" />
<rect x="363.50" y="498.50" width="1.00" height="9.00" fill="#fff" />
<rect x="365.00" y="505.00" width="3.00" height="3.00" fill="#fff" />
<rect x="485.00" y="480.00" width="78.00" height="12.50" fill="#000" />
<rect x="490.35" y="481.00" width="1.20" height="10.00" fill="#fff" />
<rect x="496.19" y="481.00" width="1.20" height="10.00" fill="#fff" />
<rect x="502.04" y="481.00" width="1.20" height="10.00" fill="#fff" />
<rect x="507.88" y="481.00" width="1.20" height="10.00" fill="#fff" />
<rect x="513.73" y="481.00" width="1.20" height="10.00" fill="#fff" />
<rect x="519.58" y="481.00" width="1.20" height="10.00" fill="#fff" />
<rect x="525.42" y="481.00" width="1.20" height="10.00" fill="#fff" />
<rect x="531.27" y="481.00" width="1.20" height="10.00" fill="#fff" />
<rect x="537.12" y="481.00" width="1.20" height="10.00" fill="#fff" />
<rect x="542.96" y="481.00" width="1.20" height="10.00" fill="#fff" />
<rect x="548.81" y="481.00" width="1.20" height="10.00" fill="#fff" />
<rect x="554.65" y="481.00" width="1.20" height="10.00" fill="#fff" />
<rect x="560.50" y="481.00" width="1.20" height="10.00" fill="#fff" />
<rect x="486.00" y="486.00" width="75.00" height="1.00" fill="#fff" />
<rect x="486.00" y="490.50" width="75.00" height="1.00" fill="#fff" />
<rect x="487.50" y="488.00" width="4.00" height="2.00" fill="#fff" />
<rect x="484.00" y="497.00" width="102.00" height="12.50" fill="#000" />
<rect x="489.38" y="498.00" width="1.20" height="10.00" fill="#fff" />
<rect x="495.26" y="498.00" width="1.20" height="10.00" fill="#fff" />
<rect x="501.15" y="498.00" width="1.20" height="10.00" fill="#fff" />
<rect x="507.03" y="498.00" width="1.20" height="10.00" fill="#fff" />
<rect x="512.91" y="498.00" width="1.20" height="10.00" fill="#fff" />
<rect x="518.79" y="498.00" width="1.20" height="10.00" fill="#fff" />
<rect x="524.68" y="498.00" width="1.20" height="10.00" fill="#fff" />
<rect x="530.56" y="498.00" width="1.20" height="10.00" fill="#fff" />
<rect x="536.44" y="498.00" width="1.20" height="10.00" fill="#fff" />
<rect x="542.32" y="498.00" width="1.20" height="10.00" fill="#fff" />
<rect x="548.21" y="498.00" width="1.20" height="10.00" fill="#fff" />
<rect x="554.09" y="498.00" width="1.20" height="10.00" fill="#fff" />
<rect x="559.97" y="498.00" width="1.20" height="10.00" fill="#fff" />
<rect x="565.85" y="498.00" width="1.20" height="10.00" fill="#fff" />
<rect x="571.74" y="498.00" width="1.20" height="10.00" fill="#fff" />
<rect x="577.62" y="498.00" width="1.20" height="10.00" fill="#fff" />
<rect x="583.50" y="498.00" width="1.20" height="10.00" fill="#fff" />
<rect x="485.00" y="503.00" width="99.00" height="1.00" fill="#fff" />
<rect x="485.00" y="498.50" width="99.00" height="1.00" fill="#fff" />
<rect x="485.50" y="498.50" width="1.00" height="9.00" fill="#fff" />
<rect x="487.00" y="505.00" width="3.00" height="3.00" fill="#fff" />
<rect x="622.00" y="378.00" width="24.00" height="110.00" fill="#000" />
<rect x="623.00" y="379.00" width="22.00" height="108.00" fill="#fff" />
<rect x="625.00" y="383.00" width="7.00" height="7.00" fill="#000" />
<rect x="626.00" y="384.00" width="5.00" height="5.00" fill="#fff" />
<rect x="633.00" y="382.00" width="3.00" height="7.00" fill="#000" />
<rect x="639.00" y="383.00" width="4.00" height="5.00" fill="#000" />
<rect x="625.00" y="392.20" width="7.00" height="7.00" fill="#000" />
<rect x="626.00" y="393.20" width="5.00" height="5.00" fill="#fff" />
<rect x="633.00" y="391.20" width="3.00" height="7.00" fill="#000" />
<rect x="639.00" y="392.20" width="4.00" height="5.00" fill="#000" />
<rect x="625.00" y="401.40" width="7.00" height="7.00" fill="#000" />
<rect x="626.00" y="402.40" width="5.00" height="5.00" fill="#fff" />
<rect x="633.00" y="400.40" width="3.00" height="7.00" fill="#000" />
<rect x="639.00" y="401.40" width="4.00" height="5.00" fill="#000" />
<rect x="625.00" y="410.60" width="7.00" height="7.00" fill="#000" />
<rect x="626.00" y="411.60" width="5.00" height="5.00" fill="#fff" />
<rect x="633.00" y="409.60" width="3.00" height="7.00" fill="#000" />
<rect x="639.00" y="410.60" width="4.00" height="5.00" fill="#000" />
<rect x="625.00" y="419.80" width="7.00" height="7.00" fill="#000" />
<rect x="626.00" y="420.80" width="5.00" height="5.00" fill="#fff" />
<rect x="633.00" y="418.80" width="3.00" height="7.00" fill="#000" />
<rect x="639.00" y="419.80" width="4.00" height="5.00" fill="#000" />
<rect x="625.00" y="429.00" width="7.00" height="7.00" fill="#000" />
<rect x="626.00" y="430.00" width="5.00" height="5.00" fill="#fff" />
<rect x="633.00" y="428.00" width="3.00" height="7.00" fill="#000" />
<rect x="639.00" y="429.00" width="4.00" height="5.00" fill="#000" />
<rect x="625.00" y="438.20" width="7.00" height="7.00" fill="#000" />
<rect x="626.00" y="439.20" width="5.00" height="5.00" fill="#fff" />
<rect x="633.00" y="437.20" width="3.00" height="7.00" fill="#000" />
<rect x="639.00" y="438.20" width="4.00" height="5.00" fill="#000" />
<rect x="625.00" y="447.40" width="7.00" height="7.00" fill="#000" />
<rect x="626.00" y="448.40" width="5.00" height="5.00" fill="#fff" />
<rect x="633.00" y="446.40" width="3.00" height="7.00" fill="#000" />
<rect x="639.00" y="447.40" width="4.00" height="5.00" fill="#000" />
<rect x="625.00" y="456.60" width="7.00" height="7.00" fill="#000" />
<rect x="626.00" y="457.60" width="5.00" height="5.00" fill="#fff" />
<rect x="633.00" y="455.60" width="3.00" height="7.00" fill="#000" />
<rect x="639.00" y="456.60" width="4.00" height="5.00" fill="#000" />
<rect x="625.00" y="465.80" width="7.00" height="7.00" fill="#000" />
<rect x="626.00" y="466.80" width="5.00" height="5.00" fill="#fff" />
<rect x="633.00" y="464.80" width="3.00" height="7.00" fill="#000" />
<rect x="639.00" y="465.80" width="4.00" height="5.00" fill="#000" />
<rect x="625.00" y="475.00" width="7.00" height="7.00" fill="#000" />
<rect x="626.00" y="476.00" width="5.00" height="5.00" fill="#fff" />
<rect x="633.00" y="474.00" width="3.00" height="7.00" fill="#000" />
<rect x="639.00" y="475.00" width="4.00" height="5.00" fill="#000" />
<rect x="638.00" y="379.00" width="1.00" height="108.00" fill="#000" />
<rect x="636.00" y="379.00" width="1.00" height="108.00" fill="#000" />
<rect x="657.00" y="382.00" width="40.00" height="1.00" fill="#000" />
<rect x="657.00" y="382.00" width="1.00" height="40.00" fill="#000" />
<rect x="657.00" y="421.00" width="40.00" height="1.00" fill="#000" />
<rect x="690.00" y="382.00" width="7.00" height="40.00" fill="#000" />
<polygon points="666.00,445.00 690.00,445.00 690.00,440.00 693.00,437.00 697.00,437.00 697.00,489.00 693.00,489.00 690.00,485.00 690.00,482.00 666.00,482.00" fill="#000" />
<rect x="663.00" y="451.00" width="3.00" height="25.00" fill="#000" />
<rect x="659.00" y="453.00" width="5.00" height="9.00" fill="#000" />
<rect x="660.00" y="454.00" width="3.00" height="7.00" fill="#fff" />
<rect x="659.00" y="465.00" width="5.00" height="8.00" fill="#000" />
<rect x="660.00" y="466.00" width="3.00" height="6.00" fill="#fff" />
<rect x="53.00" y="32.00" width="7.00" height="30.00" fill="#000" />
<rect x="58.00" y="33.00" width="1.00" height="28.00" fill="#fff" />
<rect x="54.00" y="37.00" width="4.00" height="1.00" fill="#fff" />
<rect x="54.00" y="42.00" width="4.00" height="1.00" fill="#fff" />
<rect x="54.00" y="47.00" width="4.00" height="1.00" fill="#fff" />
<rect x="54.00" y="52.00" width="4.00" height="1.00" fill="#fff" />
<rect x="54.00" y="57.00" width="4.00" height="1.00" fill="#fff" />
<rect x="54.50" y="58.50" width="2.50" height="2.00" fill="#fff" />
<rect x="55.50" y="59.50" width="0.50" height="0.00" fill="#000" />
<rect x="53.00" y="66.00" width="7.00" height="26.00" fill="#000" />
<rect x="58.00" y="67.00" width="1.00" height="24.00" fill="#fff" />
<rect x="54.00" y="71.20" width="4.00" height="1.00" fill="#fff" />
<rect x="54.00" y="76.40" width="4.00" height="1.00" fill="#fff" />
<rect x="54.00" y="81.60" width="4.00" height="1.00" fill="#fff" />
<rect x="54.00" y="86.80" width="4.00" height="1.00" fill="#fff" />
<rect x="54.50" y="88.30" width="2.50" height="2.20" fill="#fff" />
<rect x="55.50" y="89.30" width="0.50" height="0.20" fill="#000" />
<rect x="53.00" y="96.00" width="7.00" height="14.00" fill="#000" />
<rect x="58.00" y="97.00" width="1.00" height="12.00" fill="#fff" />
<rect x="54.00" y="103.00" width="4.00" height="1.00" fill="#fff" />
<rect x="54.50" y="104.50" width="2.50" height="4.00" fill="#fff" />
<rect x="55.50" y="105.50" width="0.50" height="2.00" fill="#000" />
<rect x="53.00" y="113.00" width="7.00" height="14.00" fill="#000" />
<rect x="58.00" y="114.00" width="1.00" height="12.00" fill="#fff" />
<rect x="54.00" y="120.00" width="4.00" height="1.00" fill="#fff" />
<rect x="54.50" y="121.50" width="2.50" height="4.00" fill="#fff" />
<rect x="55.50" y="122.50" width="0.50" height="2.00" fill="#000" />
<rect x="53.00" y="133.00" width="7.00" height="12.00" fill="#000" />
<rect x="58.00" y="134.00" width="1.00" height="10.00" fill="#fff" />
<rect x="54.00" y="139.00" width="4.00" height="1.00" fill="#fff" />
<rect x="54.50" y="140.50" width="2.50" height="3.00" fill="#fff" />
<rect x="55.50" y="141.50" width="0.50" height="1.00" fill="#000" />
<rect x="60.00" y="159.00" width="7.00" height="13.00" fill="#000" />
<rect x="65.00" y="160.00" width="1.00" height="11.00" fill="#fff" />
<rect x="61.00" y="163.33" width="4.00" height="1.00" fill="#fff" />
<rect x="61.00" y="167.67" width="4.00" height="1.00" fill="#fff" />
<rect x="61.50" y="169.17" width="2.50" height="1.33" fill="#fff" />
<rect x="62.50" y="170.17" width="0.50" height="-0.67" fill="#000" />
<rect x="60.00" y="176.00" width="7.00" height="13.00" fill="#000" />
<rect x="65.00" y="177.00" width="1.00" height="11.00" fill="#fff" />
<rect x="61.00" y="180.33" width="4.00" height="1.00" fill="#fff" />
<rect x="61.00" y="184.67" width="4.00" height="1.00" fill="#fff" />
<rect x="61.50" y="186.17" width="2.50" height="1.33" fill="#fff" />
<rect x="62.50" y="187.17" width="0.50" height="-0.67" fill="#000" />
<rect x="650.00" y="48.00" width="7.00" height="13.00" fill="#000" />
<rect x="655.00" y="49.00" width="1.00" height="11.00" fill="#fff" />
<rect x="651.00" y="54.50" width="4.00" height="1.00" fill="#fff" />
<rect x="651.50" y="56.00" width="2.50" height="3.50" fill="#fff" />
<rect x="652.50" y="57.00" width="0.50" height="1.50" fill="#000" />
<rect x="650.00" y="63.00" width="7.00" height="14.00" fill="#000" />
<rect x="655.00" y="64.00" width="1.00" height="12.00" fill="#fff" />
<rect x="651.00" y="70.00" width="4.00" height="1.00" fill="#fff" />
<rect x="651.50" y="71.50" width="2.50" height="4.00" fill="#fff" />
<rect x="652.50" y="72.50" width="0.50" height="2.00" fill="#000" />
<rect x="674.00" y="40.00" width="7.00" height="13.00" fill="#000" />
<rect x="679.00" y="41.00" width="1.00" height="11.00" fill="#fff" />
<rect x="675.00" y="44.33" width="4.00" height="1.00" fill="#fff" />
<rect x="675.00" y="48.67" width="4.00" height="1.00" fill="#fff" />
<rect x="675.50" y="50.17" width="2.50" height="1.33" fill="#fff" />
<rect x="676.50" y="51.17" width="0.50" height="-0.67" fill="#000" />
<rect x="303.00" y="21.00" width="19.00" height="7.00" fill="#000" />
<rect x="305.00" y="25.00" width="4.00" height="1.00" fill="#fff" />
<rect x="310.00" y="23.00" width="1.00" height="3.00" fill="#fff" />
<rect x="314.00" y="23.00" width="5.00" height="3.00" fill="#fff" />
<rect x="315.00" y="24.00" width="3.00" height="1.00" fill="#000" />
<rect x="311.00" y="44.00" width="27.00" height="6.00" fill="#000" />
<rect x="313.00" y="46.00" width="3.00" height="2.00" fill="#fff" />
<rect x="319.00" y="46.00" width="3.00" height="2.00" fill="#fff" />
<rect x="325.00" y="46.00" width="3.00" height="2.00" fill="#fff" />
<rect x="331.00" y="46.00" width="3.00" height="2.00" fill="#fff" />
<rect x="69.00" y="176.00" width="6.00" height="49.00" fill="#000" />
<circle cx="72.0" cy="176.5" r="3.3" fill="#000"/>
<circle cx="72.0" cy="182.3" r="3.3" fill="#000"/>
<circle cx="72.0" cy="188.1" r="3.3" fill="#000"/>
<circle cx="72.0" cy="193.9" r="3.3" fill="#000"/>
<circle cx="72.0" cy="199.7" r="3.3" fill="#000"/>
<circle cx="72.0" cy="205.5" r="3.3" fill="#000"/>
<circle cx="72.0" cy="211.3" r="3.3" fill="#000"/>
<circle cx="72.0" cy="217.1" r="3.3" fill="#000"/>
<circle cx="72.0" cy="222.9" r="3.3" fill="#000"/>
<rect x="72.00" y="178.00" width="2.00" height="1.00" fill="#fff" />
<rect x="70.00" y="179.00" width="4.00" height="2.00" fill="#fff" />
<rect x="72.00" y="181.00" width="2.00" height="1.00" fill="#fff" />
<rect x="72.00" y="184.00" width="2.00" height="1.00" fill="#fff" />
<rect x="70.00" y="185.00" width="4.00" height="2.00" fill="#fff" />
<rect x="72.00" y="187.00" width="2.00" height="1.00" fill="#fff" />
<rect x="72.00" y="190.00" width="2.00" height="1.00" fill="#fff" />
<rect x="70.00" y="191.00" width="4.00" height="2.00" fill="#fff" />
<rect x="72.00" y="193.00" width="2.00" height="1.00" fill="#fff" />
<rect x="72.00" y="196.00" width="2.00" height="1.00" fill="#fff" />
<rect x="70.00" y="197.00" width="4.00" height="2.00" fill="#fff" />
<rect x="72.00" y="199.00" width="2.00" height="1.00" fill="#fff" />
<rect x="72.00" y="202.00" width="2.00" height="1.00" fill="#fff" />
<rect x="70.00" y="203.00" width="4.00" height="2.00" fill="#fff" />
<rect x="72.00" y="205.00" width="2.00" height="1.00" fill="#fff" />
<rect x="72.00" y="208.00" width="2.00" height="1.00" fill="#fff" />
<rect x="70.00" y="209.00" width="4.00" height="2.00" fill="#fff" />
<rect x="72.00" y="211.00" width="2.00" height="1.00" fill="#fff" />
<rect x="72.00" y="213.00" width="2.00" height="1.00" fill="#fff" />
<rect x="70.00" y="214.00" width="4.00" height="2.00" fill="#fff" />
<rect x="72.00" y="216.00" width="2.00" height="1.00" fill="#fff" />
<rect x="72.00" y="219.00" width="2.00" height="1.00" fill="#fff" />
<rect x="70.00" y="220.00" width="4.00" height="2.00" fill="#fff" />
<rect x="72.00" y="222.00" width="2.00" height="1.00" fill="#fff" />
<rect x="77.10" y="176.00" width="6.00" height="49.00" fill="#000" />
<circle cx="80.1" cy="176.5" r="3.3" fill="#000"/>
<circle cx="80.1" cy="182.3" r="3.3" fill="#000"/>
<circle cx="80.1" cy="188.1" r="3.3" fill="#000"/>
<circle cx="80.1" cy="193.9" r="3.3" fill="#000"/>
<circle cx="80.1" cy="199.7" r="3.3" fill="#000"/>
<circle cx="80.1" cy="205.5" r="3.3" fill="#000"/>
<circle cx="80.1" cy="211.3" r="3.3" fill="#000"/>
<circle cx="80.1" cy="217.1" r="3.3" fill="#000"/>
<circle cx="80.1" cy="222.9" r="3.3" fill="#000"/>
<rect x="80.10" y="178.00" width="2.00" height="1.00" fill="#fff" />
<rect x="78.10" y="179.00" width="4.00" height="2.00" fill="#fff" />
<rect x="80.10" y="181.00" width="2.00" height="1.00" fill="#fff" />
<rect x="80.10" y="184.00" width="2.00" height="1.00" fill="#fff" />
<rect x="78.10" y="185.00" width="4.00" height="2.00" fill="#fff" />
<rect x="80.10" y="187.00" width="2.00" height="1.00" fill="#fff" />
<rect x="80.10" y="190.00" width="2.00" height="1.00" fill="#fff" />
<rect x="78.10" y="191.00" width="4.00" height="2.00" fill="#fff" />
<rect x="80.10" y="193.00" width="2.00" height="1.00" fill="#fff" />
<rect x="80.10" y="196.00" width="2.00" height="1.00" fill="#fff" />
<rect x="78.10" y="197.00" width="4.00" height="2.00" fill="#fff" />
<rect x="80.10" y="199.00" width="2.00" height="1.00" fill="#fff" />
<rect x="80.10" y="202.00" width="2.00" height="1.00" fill="#fff" />
<rect x="78.10" y="203.00" width="4.00" height="2.00" fill="#fff" />
<rect x="80.10" y="205.00" width="2.00" height="1.00" fill="#fff" />
<rect x="80.10" y="208.00" width="2.00" height="1.00" fill="#fff" />
<rect x="78.10" y="209.00" width="4.00" height="2.00" fill="#fff" />
<rect x="80.10" y="211.00" width="2.00" height="1.00" fill="#fff" />
<rect x="80.10" y="213.00" width="2.00" height="1.00" fill="#fff" />
<rect x="78.10" y="214.00" width="4.00" height="2.00" fill="#fff" />
<rect x="80.10" y="216.00" width="2.00" height="1.00" fill="#fff" />
<rect x="80.10" y="219.00" width="2.00" height="1.00" fill="#fff" />
<rect x="78.10" y="220.00" width="4.00" height="2.00" fill="#fff" />
<rect x="80.10" y="222.00" width="2.00" height="1.00" fill="#fff" />
<rect x="85.20" y="176.00" width="6.00" height="49.00" fill="#000" />
<circle cx="88.2" cy="176.5" r="3.3" fill="#000"/>
<circle cx="88.2" cy="182.3" r="3.3" fill="#000"/>
<circle cx="88.2" cy="188.1" r="3.3" fill="#000"/>
<circle cx="88.2" cy="193.9" r="3.3" fill="#000"/>
<circle cx="88.2" cy="199.7" r="3.3" fill="#000"/>
<circle cx="88.2" cy="205.5" r="3.3" fill="#000"/>
<circle cx="88.2" cy="211.3" r="3.3" fill="#000"/>
<circle cx="88.2" cy="217.1" r="3.3" fill="#000"/>
<circle cx="88.2" cy="222.9" r="3.3" fill="#000"/>
<rect x="88.20" y="178.00" width="2.00" height="1.00" fill="#fff" />
<rect x="86.20" y="179.00" width="4.00" height="2.00" fill="#fff" />
<rect x="88.20" y="181.00" width="2.00" height="1.00" fill="#fff" />
<rect x="88.20" y="184.00" width="2.00" height="1.00" fill="#fff" />
<rect x="86.20" y="185.00" width="4.00" height="2.00" fill="#fff" />
<rect x="88.20" y="187.00" width="2.00" height="1.00" fill="#fff" />
<rect x="88.20" y="190.00" width="2.00" height="1.00" fill="#fff" />
<rect x="86.20" y="191.00" width="4.00" height="2.00" fill="#fff" />
<rect x="88.20" y="193.00" width="2.00" height="1.00" fill="#fff" />
<rect x="88.20" y="196.00" width="2.00" height="1.00" fill="#fff" />
<rect x="86.20" y="197.00" width="4.00" height="2.00" fill="#fff" />
<rect x="88.20" y="199.00" width="2.00" height="1.00" fill="#fff" />
<rect x="88.20" y="202.00" width="2.00" height="1.00" fill="#fff" />
<rect x="86.20" y="203.00" width="4.00" height="2.00" fill="#fff" />
<rect x="88.20" y="205.00" width="2.00" height="1.00" fill="#fff" />
<rect x="88.20" y="208.00" width="2.00" height="1.00" fill="#fff" />
<rect x="86.20" y="209.00" width="4.00" height="2.00" fill="#fff" />
<rect x="88.20" y="211.00" width="2.00" height="1.00" fill="#fff" />
<rect x="88.20" y="213.00" width="2.00" height="1.00" fill="#fff" />
<rect x="86.20" y="214.00" width="4.00" height="2.00" fill="#fff" />
<rect x="88.20" y="216.00" width="2.00" height="1.00" fill="#fff" />
<rect x="88.20" y="219.00" width="2.00" height="1.00" fill="#fff" />
<rect x="86.20" y="220.00" width="4.00" height="2.00" fill="#fff" />
<rect x="88.20" y="222.00" width="2.00" height="1.00" fill="#fff" />
<rect x="98.00" y="171.00" width="18.00" height="18.00" fill="#000" />
<rect x="99.00" y="176.50" width="4.00" height="1.00" fill="#fff" />
<rect x="105.00" y="176.50" width="4.00" height="1.00" fill="#fff" />
<rect x="111.00" y="176.50" width="4.00" height="1.00" fill="#fff" />
<rect x="99.00" y="182.50" width="4.00" height="1.00" fill="#fff" />
<rect x="105.00" y="182.50" width="4.00" height="1.00" fill="#fff" />
<rect x="111.00" y="182.50" width="4.00" height="1.00" fill="#fff" />
<rect x="99.50" y="184.50" width="3.00" height="3.00" fill="#fff" />
<rect x="100.50" y="185.50" width="1.00" height="1.00" fill="#000" />
<rect x="105.50" y="184.50" width="3.00" height="3.00" fill="#fff" />
<rect x="106.50" y="185.50" width="1.00" height="1.00" fill="#000" />
<rect x="111.50" y="184.50" width="3.00" height="3.00" fill="#fff" />
<rect x="112.50" y="185.50" width="1.00" height="1.00" fill="#000" />
<rect x="113.70" y="172.00" width="1.00" height="16.00" fill="#fff" />
<rect x="105.00" y="211.00" width="13.00" height="17.00" fill="#000" />
<rect x="106.00" y="216.17" width="4.50" height="1.00" fill="#fff" />
<rect x="112.50" y="216.17" width="4.50" height="1.00" fill="#fff" />
<rect x="106.00" y="221.83" width="4.50" height="1.00" fill="#fff" />
<rect x="112.50" y="221.83" width="4.50" height="1.00" fill="#fff" />
<rect x="106.50" y="223.83" width="3.50" height="2.67" fill="#fff" />
<rect x="107.50" y="224.83" width="1.50" height="0.67" fill="#000" />
<rect x="113.00" y="223.83" width="3.50" height="2.67" fill="#fff" />
<rect x="114.00" y="224.83" width="1.50" height="0.67" fill="#000" />
<rect x="93.00" y="211.00" width="7.00" height="18.00" fill="#000" />
<rect x="98.00" y="212.00" width="1.00" height="16.00" fill="#fff" />
<rect x="94.00" y="217.00" width="4.00" height="1.00" fill="#fff" />
<rect x="94.00" y="223.00" width="4.00" height="1.00" fill="#fff" />
<rect x="94.50" y="224.50" width="2.50" height="3.00" fill="#fff" />
<rect x="95.50" y="225.50" width="0.50" height="1.00" fill="#000" />
<rect x="80.00" y="268.00" width="36.00" height="18.00" fill="#000" />
<rect x="81.00" y="274.00" width="5.70" height="1.00" fill="#fff" />
<rect x="88.20" y="274.00" width="5.70" height="1.00" fill="#fff" />
<rect x="95.40" y="274.00" width="5.70" height="1.00" fill="#fff" />
<rect x="102.60" y="274.00" width="5.70" height="1.00" fill="#fff" />
<rect x="109.80" y="274.00" width="5.70" height="1.00" fill="#fff" />
<rect x="81.00" y="280.00" width="5.70" height="1.00" fill="#fff" />
<rect x="88.20" y="280.00" width="5.70" height="1.00" fill="#fff" />
<rect x="95.40" y="280.00" width="5.70" height="1.00" fill="#fff" />
<rect x="102.60" y="280.00" width="5.70" height="1.00" fill="#fff" />
<rect x="109.80" y="280.00" width="5.70" height="1.00" fill="#fff" />
<rect x="87.20" y="269.00" width="1.00" height="16.00" fill="#fff" />
<rect x="94.40" y="269.00" width="1.00" height="16.00" fill="#fff" />
<rect x="101.60" y="269.00" width="1.00" height="16.00" fill="#fff" />
<rect x="108.80" y="269.00" width="1.00" height="16.00" fill="#fff" />
<rect x="92.00" y="268.00" width="5.00" height="5.00" fill="#fff" />
<rect x="104.00" y="268.00" width="12.00" height="5.00" fill="#fff" />
<rect x="98.00" y="269.00" width="1.00" height="16.00" fill="#fff" />
<rect x="65.00" y="268.00" width="6.00" height="18.00" fill="#000" />
<rect x="69.00" y="269.00" width="1.00" height="16.00" fill="#fff" />
<rect x="66.00" y="274.00" width="3.00" height="1.00" fill="#fff" />
<rect x="66.00" y="280.00" width="3.00" height="1.00" fill="#fff" />
<rect x="66.50" y="281.50" width="1.50" height="3.00" fill="#fff" />
<rect x="67.50" y="282.50" width="-0.50" height="1.00" fill="#000" />
<rect x="124.00" y="275.00" width="6.00" height="11.00" fill="#000" />
<rect x="128.00" y="276.00" width="1.00" height="9.00" fill="#fff" />
<rect x="125.00" y="280.50" width="3.00" height="1.00" fill="#fff" />
<rect x="125.50" y="282.00" width="1.50" height="2.50" fill="#fff" />
<rect x="126.50" y="283.00" width="-0.50" height="0.50" fill="#000" />
<rect x="216.00" y="366.00" width="24.00" height="19.00" fill="#000" />
<rect x="217.00" y="367.50" width="4.00" height="1.00" fill="#fff" />
<rect x="217.00" y="372.00" width="4.00" height="1.00" fill="#fff" />
<rect x="217.00" y="377.50" width="4.00" height="1.00" fill="#fff" />
<rect x="217.00" y="383.00" width="4.00" height="1.00" fill="#fff" />
<rect x="217.50" y="379.50" width="3.00" height="3.00" fill="#fff" />
<rect x="223.00" y="367.50" width="4.00" height="1.00" fill="#fff" />
<rect x="223.00" y="372.00" width="4.00" height="1.00" fill="#fff" />
<rect x="223.00" y="377.50" width="4.00" height="1.00" fill="#fff" />
<rect x="223.00" y="383.00" width="4.00" height="1.00" fill="#fff" />
<rect x="223.50" y="379.50" width="3.00" height="3.00" fill="#fff" />
<rect x="229.00" y="367.50" width="4.00" height="1.00" fill="#fff" />
<rect x="229.00" y="372.00" width="4.00" height="1.00" fill="#fff" />
<rect x="229.00" y="377.50" width="4.00" height="1.00" fill="#fff" />
<rect x="229.00" y="383.00" width="4.00" height="1.00" fill="#fff" />
<rect x="229.50" y="379.50" width="3.00" height="3.00" fill="#fff" />
<rect x="235.00" y="367.50" width="4.00" height="1.00" fill="#fff" />
<rect x="235.00" y="372.00" width="4.00" height="1.00" fill="#fff" />
<rect x="235.00" y="377.50" width="4.00" height="1.00" fill="#fff" />
<rect x="235.00" y="383.00" width="4.00" height="1.00" fill="#fff" />
<rect x="235.50" y="379.50" width="3.00" height="3.00" fill="#fff" />
<rect x="233.50" y="367.50" width="1.00" height="16.00" fill="#fff" />
<rect x="181.00" y="402.00" width="14.00" height="6.00" fill="#000" />
<rect x="183.00" y="403.00" width="4.00" height="3.00" fill="#fff" />
<rect x="188.00" y="403.00" width="4.00" height="3.00" fill="#fff" />
<rect x="61.00" y="413.00" width="13.00" height="32.00" fill="#000" />
<rect x="62.00" y="419.40" width="5.00" height="1.00" fill="#fff" />
<rect x="68.50" y="419.40" width="5.00" height="1.00" fill="#fff" />
<rect x="62.00" y="425.80" width="5.00" height="1.00" fill="#fff" />
<rect x="68.50" y="425.80" width="5.00" height="1.00" fill="#fff" />
<rect x="62.00" y="432.20" width="5.00" height="1.00" fill="#fff" />
<rect x="68.50" y="432.20" width="5.00" height="1.00" fill="#fff" />
<rect x="62.00" y="438.60" width="5.00" height="1.00" fill="#fff" />
<rect x="68.50" y="438.60" width="5.00" height="1.00" fill="#fff" />
<rect x="67.50" y="414.00" width="1.00" height="30.00" fill="#fff" />
<rect x="69.25" y="440.30" width="3.00" height="3.00" fill="#fff" />
<rect x="63.00" y="455.00" width="7.00" height="20.00" fill="#000" />
<rect x="64.00" y="458.00" width="5.00" height="1.00" fill="#fff" />
<rect x="64.00" y="464.00" width="5.00" height="1.00" fill="#fff" />
<rect x="64.00" y="467.00" width="4.00" height="5.00" fill="#fff" />
<rect x="65.00" y="468.00" width="2.00" height="3.00" fill="#000" />
<rect x="251.00" y="489.00" width="13.00" height="15.00" fill="#000" />
<rect x="252.00" y="493.00" width="5.00" height="1.00" fill="#fff" />
<rect x="258.00" y="493.00" width="5.00" height="1.00" fill="#fff" />
<rect x="252.00" y="497.50" width="5.00" height="1.00" fill="#fff" />
<rect x="258.00" y="497.50" width="5.00" height="1.00" fill="#fff" />
<rect x="252.00" y="502.00" width="5.00" height="1.00" fill="#fff" />
<rect x="258.00" y="502.00" width="5.00" height="1.00" fill="#fff" />
<rect x="298.00" y="495.50" width="13.00" height="7.00" fill="#000" />
<rect x="299.50" y="497.50" width="10.00" height="3.50" fill="#fff" />
<rect x="304.00" y="497.50" width="1.00" height="3.50" fill="#000" />
<rect x="299.50" y="497.50" width="5.00" height="3.50" fill="#000" />
<rect x="313.00" y="495.50" width="13.00" height="7.00" fill="#000" />
<rect x="314.50" y="497.50" width="10.00" height="3.50" fill="#fff" />
<rect x="319.00" y="497.50" width="1.00" height="3.50" fill="#000" />
<rect x="328.00" y="495.50" width="13.00" height="7.00" fill="#000" />
<rect x="329.50" y="497.50" width="10.00" height="3.50" fill="#fff" />
<rect x="334.00" y="497.50" width="1.00" height="3.50" fill="#000" />
<rect x="317.00" y="464.00" width="18.00" height="14.00" fill="#000" />
<rect x="318.00" y="471.00" width="4.50" height="1.00" fill="#fff" />
<rect x="324.00" y="471.00" width="4.50" height="1.00" fill="#fff" />
<rect x="330.00" y="471.00" width="4.50" height="1.00" fill="#fff" />
<rect x="323.00" y="465.00" width="1.00" height="12.00" fill="#fff" />
<rect x="329.00" y="465.00" width="1.00" height="12.00" fill="#fff" />
<rect x="521.00" y="356.00" width="53.00" height="18.00" fill="#000" />
<rect x="522.00" y="361.50" width="3.89" height="1.00" fill="#fff" />
<rect x="527.89" y="361.50" width="3.89" height="1.00" fill="#fff" />
<rect x="533.78" y="361.50" width="3.89" height="1.00" fill="#fff" />
<rect x="539.67" y="361.50" width="3.89" height="1.00" fill="#fff" />
<rect x="545.56" y="361.50" width="3.89" height="1.00" fill="#fff" />
<rect x="551.44" y="361.50" width="3.89" height="1.00" fill="#fff" />
<rect x="557.33" y="361.50" width="3.89" height="1.00" fill="#fff" />
<rect x="563.22" y="361.50" width="3.89" height="1.00" fill="#fff" />
<rect x="569.11" y="361.50" width="3.89" height="1.00" fill="#fff" />
<rect x="522.00" y="367.50" width="3.89" height="1.00" fill="#fff" />
<rect x="527.89" y="367.50" width="3.89" height="1.00" fill="#fff" />
<rect x="533.78" y="367.50" width="3.89" height="1.00" fill="#fff" />
<rect x="539.67" y="367.50" width="3.89" height="1.00" fill="#fff" />
<rect x="545.56" y="367.50" width="3.89" height="1.00" fill="#fff" />
<rect x="551.44" y="367.50" width="3.89" height="1.00" fill="#fff" />
<rect x="557.33" y="367.50" width="3.89" height="1.00" fill="#fff" />
<rect x="563.22" y="367.50" width="3.89" height="1.00" fill="#fff" />
<rect x="569.11" y="367.50" width="3.89" height="1.00" fill="#fff" />
<rect x="522.50" y="369.50" width="2.89" height="3.00" fill="#fff" />
<rect x="523.50" y="370.50" width="0.89" height="1.00" fill="#000" />
<rect x="528.39" y="369.50" width="2.89" height="3.00" fill="#fff" />
<rect x="529.39" y="370.50" width="0.89" height="1.00" fill="#000" />
<rect x="534.28" y="369.50" width="2.89" height="3.00" fill="#fff" />
<rect x="535.28" y="370.50" width="0.89" height="1.00" fill="#000" />
<rect x="540.17" y="369.50" width="2.89" height="3.00" fill="#fff" />
<rect x="541.17" y="370.50" width="0.89" height="1.00" fill="#000" />
<rect x="546.06" y="369.50" width="2.89" height="3.00" fill="#fff" />
<rect x="547.06" y="370.50" width="0.89" height="1.00" fill="#000" />
<rect x="551.94" y="369.50" width="2.89" height="3.00" fill="#fff" />
<rect x="552.94" y="370.50" width="0.89" height="1.00" fill="#000" />
<rect x="557.83" y="369.50" width="2.89" height="3.00" fill="#fff" />
<rect x="558.83" y="370.50" width="0.89" height="1.00" fill="#000" />
<rect x="563.72" y="369.50" width="2.89" height="3.00" fill="#fff" />
<rect x="564.72" y="370.50" width="0.89" height="1.00" fill="#000" />
<rect x="569.61" y="369.50" width="2.89" height="3.00" fill="#fff" />
<rect x="570.61" y="370.50" width="0.89" height="1.00" fill="#000" />
<rect x="526.39" y="357.00" width="1.00" height="16.00" fill="#fff" />
<rect x="532.28" y="357.00" width="1.00" height="16.00" fill="#fff" />
<rect x="564.67" y="357.00" width="1.00" height="16.00" fill="#fff" />
<rect x="568.00" y="283.00" width="6.00" height="13.00" fill="#000" />
<rect x="572.00" y="284.00" width="1.00" height="11.00" fill="#fff" />
<rect x="569.00" y="287.33" width="3.00" height="1.00" fill="#fff" />
<rect x="569.00" y="291.67" width="3.00" height="1.00" fill="#fff" />
<rect x="569.50" y="293.17" width="1.50" height="1.33" fill="#fff" />
<rect x="570.50" y="294.17" width="-0.50" height="-0.67" fill="#000" />
<rect x="672.00" y="270.00" width="13.00" height="48.00" fill="#000" />
<rect x="673.00" y="271.00" width="11.00" height="46.00" fill="#fff" />
<rect x="674.00" y="272.00" width="4.00" height="4.62" fill="#000" />
<rect x="674.00" y="277.62" width="4.00" height="4.62" fill="#000" />
<rect x="674.00" y="283.25" width="4.00" height="4.62" fill="#000" />
<rect x="674.00" y="288.88" width="4.00" height="4.62" fill="#000" />
<rect x="674.00" y="294.50" width="4.00" height="4.62" fill="#000" />
<rect x="674.00" y="300.12" width="4.00" height="4.62" fill="#000" />
<rect x="674.00" y="305.75" width="4.00" height="4.62" fill="#000" />
<rect x="674.00" y="311.38" width="4.00" height="4.62" fill="#000" />
<rect x="679.00" y="272.00" width="4.00" height="4.62" fill="#000" />
<rect x="679.00" y="277.62" width="4.00" height="4.62" fill="#000" />
<rect x="679.00" y="283.25" width="4.00" height="4.62" fill="#000" />
<rect x="679.00" y="288.88" width="4.00" height="4.62" fill="#000" />
<rect x="679.00" y="294.50" width="4.00" height="4.62" fill="#000" />
<rect x="679.00" y="300.12" width="4.00" height="4.62" fill="#000" />
<rect x="679.00" y="305.75" width="4.00" height="4.62" fill="#000" />
<rect x="679.00" y="311.38" width="4.00" height="4.62" fill="#000" />
<rect x="679.50" y="312.19" width="3.00" height="3.00" fill="#fff" />
<rect x="679.00" y="341.00" width="6.00" height="31.00" fill="#000" />
<rect x="683.00" y="342.00" width="1.00" height="29.00" fill="#fff" />
<rect x="680.00" y="347.20" width="3.00" height="1.00" fill="#fff" />
<rect x="680.00" y="353.40" width="3.00" height="1.00" fill="#fff" />
<rect x="680.00" y="359.60" width="3.00" height="1.00" fill="#fff" />
<rect x="680.00" y="365.80" width="3.00" height="1.00" fill="#fff" />
<rect x="680.50" y="367.30" width="1.50" height="3.20" fill="#fff" />
<rect x="681.50" y="368.30" width="-0.50" height="1.20" fill="#000" />
<rect x="605.00" y="412.00" width="13.00" height="31.00" fill="#000" />
<rect x="606.00" y="413.00" width="11.00" height="29.00" fill="#fff" />
<rect x="607.00" y="414.00" width="4.00" height="4.60" fill="#000" />
<rect x="607.00" y="419.60" width="4.00" height="4.60" fill="#000" />
<rect x="607.00" y="425.20" width="4.00" height="4.60" fill="#000" />
<rect x="607.00" y="430.80" width="4.00" height="4.60" fill="#000" />
<rect x="607.00" y="436.40" width="4.00" height="4.60" fill="#000" />
<rect x="612.00" y="414.00" width="4.00" height="4.60" fill="#000" />
<rect x="612.00" y="419.60" width="4.00" height="4.60" fill="#000" />
<rect x="612.00" y="425.20" width="4.00" height="4.60" fill="#000" />
<rect x="612.00" y="430.80" width="4.00" height="4.60" fill="#000" />
<rect x="612.00" y="436.40" width="4.00" height="4.60" fill="#000" />
<rect x="607.50" y="414.80" width="3.00" height="3.00" fill="#fff" />
<rect x="605.00" y="451.00" width="13.00" height="31.00" fill="#000" />
<rect x="606.00" y="452.00" width="11.00" height="29.00" fill="#fff" />
<rect x="607.00" y="453.00" width="4.00" height="4.60" fill="#000" />
<rect x="607.00" y="458.60" width="4.00" height="4.60" fill="#000" />
<rect x="607.00" y="464.20" width="4.00" height="4.60" fill="#000" />
<rect x="607.00" y="469.80" width="4.00" height="4.60" fill="#000" />
<rect x="607.00" y="475.40" width="4.00" height="4.60" fill="#000" />
<rect x="612.00" y="453.00" width="4.00" height="4.60" fill="#000" />
<rect x="612.00" y="458.60" width="4.00" height="4.60" fill="#000" />
<rect x="612.00" y="464.20" width="4.00" height="4.60" fill="#000" />
<rect x="612.00" y="469.80" width="4.00" height="4.60" fill="#000" />
<rect x="612.00" y="475.40" width="4.00" height="4.60" fill="#000" />
<rect x="607.50" y="453.80" width="3.00" height="3.00" fill="#fff" />
<rect x="654.00" y="214.00" width="35.00" height="19.00" fill="#000" />
<rect x="655.00" y="219.83" width="3.83" height="1.00" fill="#fff" />
<rect x="660.83" y="219.83" width="3.83" height="1.00" fill="#fff" />
<rect x="666.67" y="219.83" width="3.83" height="1.00" fill="#fff" />
<rect x="672.50" y="219.83" width="3.83" height="1.00" fill="#fff" />
<rect x="678.33" y="219.83" width="3.83" height="1.00" fill="#fff" />
<rect x="684.17" y="219.83" width="3.83" height="1.00" fill="#fff" />
<rect x="655.00" y="226.17" width="3.83" height="1.00" fill="#fff" />
<rect x="660.83" y="226.17" width="3.83" height="1.00" fill="#fff" />
<rect x="666.67" y="226.17" width="3.83" height="1.00" fill="#fff" />
<rect x="672.50" y="226.17" width="3.83" height="1.00" fill="#fff" />
<rect x="678.33" y="226.17" width="3.83" height="1.00" fill="#fff" />
<rect x="684.17" y="226.17" width="3.83" height="1.00" fill="#fff" />
<rect x="655.50" y="228.17" width="2.83" height="3.33" fill="#fff" />
<rect x="656.50" y="229.17" width="0.83" height="1.33" fill="#000" />
<rect x="661.33" y="228.17" width="2.83" height="3.33" fill="#fff" />
<rect x="662.33" y="229.17" width="0.83" height="1.33" fill="#000" />
<rect x="667.17" y="228.17" width="2.83" height="3.33" fill="#fff" />
<rect x="668.17" y="229.17" width="0.83" height="1.33" fill="#000" />
<rect x="673.00" y="228.17" width="2.83" height="3.33" fill="#fff" />
<rect x="674.00" y="229.17" width="0.83" height="1.33" fill="#000" />
<rect x="678.83" y="228.17" width="2.83" height="3.33" fill="#fff" />
<rect x="679.83" y="229.17" width="0.83" height="1.33" fill="#000" />
<rect x="684.67" y="228.17" width="2.83" height="3.33" fill="#fff" />
<rect x="685.67" y="229.17" width="0.83" height="1.33" fill="#000" />
<rect x="659.33" y="215.00" width="1.00" height="17.00" fill="#fff" />
<rect x="665.17" y="215.00" width="1.00" height="17.00" fill="#fff" />
<rect x="687.33" y="215.00" width="1.00" height="17.00" fill="#fff" />
<polygon points="37.16,48.50 45.86,45.22 53.04,44.30 52.96,41.70 45.74,41.23 36.84,38.50" fill="#000" />
<rect x="3" y="34" width="36" height="19" rx="3" fill="#000"/>
<rect x="5" y="36" width="31.5" height="14.5" rx="1.5" fill="#fff"/>
<polygon points="35.06,45.56 44.82,43.86 44.78,42.66 34.94,41.56" fill="#fff"/>
<polygon points="36.29,78.99 45.10,75.47 53.08,74.30 52.92,71.70 44.87,71.47 35.71,69.01" fill="#000" />
<rect x="4" y="65" width="34" height="18" rx="3" fill="#000"/>
<rect x="6" y="67" width="29.5" height="13.5" rx="1.5" fill="#fff"/>
<polygon points="34.12,76.11 44.02,74.13 43.95,72.93 33.89,72.12" fill="#fff"/>
<polygon points="37.16,104.50 45.86,101.22 53.04,100.30 52.96,97.70 45.74,97.23 36.84,94.50" fill="#000" />
<rect x="3" y="90" width="36" height="19" rx="3" fill="#000"/>
<rect x="5" y="92" width="31.5" height="14.5" rx="1.5" fill="#fff"/>
<polygon points="35.06,101.56 44.82,99.86 44.78,98.66 34.94,97.56" fill="#fff"/>
<polygon points="35.85,123.50 44.94,120.76 52.96,120.30 53.04,117.70 45.05,116.77 36.15,113.50" fill="#000" />
<rect x="4" y="110" width="34" height="17" rx="3" fill="#000"/>
<rect x="6" y="112" width="29.5" height="12.5" rx="1.5" fill="#fff"/>
<polygon points="33.94,120.44 43.98,119.33 44.01,118.14 34.06,116.44" fill="#fff"/>
<polygon points="35.00,144.00 44.00,141.00 53.00,140.30 53.00,137.70 44.00,137.00 35.00,134.00" fill="#000" />
<rect x="4" y="131" width="33" height="16" rx="3" fill="#000"/>
<rect x="6" y="133" width="28.5" height="11.5" rx="1.5" fill="#fff"/>
<polygon points="33.00,141.00 43.00,139.60 43.00,138.40 33.00,137.00" fill="#fff"/>
<polygon points="42.28,170.99 51.10,167.50 60.07,166.30 59.93,163.70 50.88,163.50 41.72,161.01" fill="#000" />
<rect x="12" y="158" width="32" height="16" rx="3" fill="#000"/>
<rect x="14" y="160" width="27.5" height="11.5" rx="1.5" fill="#fff"/>
<polygon points="40.11,168.11 50.02,166.16 49.95,164.96 39.89,164.11" fill="#fff"/>
<polygon points="42.55,190.97 51.17,186.99 60.14,185.29 59.86,182.71 50.72,183.02 41.45,181.03" fill="#000" />
<rect x="12" y="178" width="32" height="16" rx="3" fill="#000"/>
<rect x="14" y="180" width="27.5" height="11.5" rx="1.5" fill="#fff"/>
<polygon points="40.23,188.21 50.02,185.71 49.88,184.52 39.79,184.23" fill="#fff"/>
<polygon points="50.13,209.50 59.05,206.26 69.03,205.30 68.97,202.70 58.94,202.26 49.87,199.50" fill="#000" />
<rect x="13" y="196" width="39" height="17" rx="3" fill="#000"/>
<rect x="15" y="198" width="34.5" height="12.5" rx="1.5" fill="#fff"/>
<polygon points="48.05,206.55 58.01,204.89 57.98,203.69 47.95,202.55" fill="#fff"/>
<polygon points="63.97,240.03 69.43,232.27 80.77,223.05 79.23,220.95 67.06,229.05 58.03,231.97" fill="#000" />
<rect x="30" y="234" width="37" height="16" rx="3" fill="#000"/>
<rect x="32" y="236" width="32.5" height="11.5" rx="1.5" fill="#fff"/>
<polygon points="60.58,238.80 67.80,231.74 67.08,230.77 58.20,235.58" fill="#fff"/>
<polygon points="101.00,249.00 98.00,240.00 97.30,229.00 94.70,229.00 94.00,240.00 91.00,249.00" fill="#000" />
<rect x="75" y="247" width="39" height="16" rx="3" fill="#000"/>
<rect x="77" y="249" width="34.5" height="11.5" rx="1.5" fill="#fff"/>
<polygon points="98.00,251.00 96.60,241.00 95.40,241.00 94.00,251.00" fill="#fff"/>
<polygon points="98.00,152.00 101.00,161.00 101.70,171.00 104.30,171.00 105.00,161.00 108.00,152.00" fill="#000" />
<rect x="82" y="137" width="30" height="17" rx="3" fill="#000"/>
<rect x="84" y="139" width="25.5" height="12.5" rx="1.5" fill="#fff"/>
<polygon points="101.00,150.00 102.40,160.00 103.60,160.00 105.00,150.00" fill="#fff"/>
<polygon points="116.66,158.28 113.16,165.46 109.13,170.03 110.87,171.97 115.84,168.44 123.34,165.72" fill="#000" />
<rect x="114" y="148" width="33" height="16" rx="3" fill="#000"/>
<rect x="116" y="150" width="28.5" height="11.5" rx="1.5" fill="#fff"/>
<polygon points="120.15,159.18 114.84,165.84 115.64,166.73 122.82,162.15" fill="#fff"/>
<polygon points="133.58,171.52 124.86,175.25 115.89,176.70 116.11,179.30 125.20,179.24 134.42,181.48" fill="#000" />
<rect x="132" y="169" width="33" height="15" rx="3" fill="#000"/>
<rect x="133.2" y="170.2" width="30.4" height="12.4" rx="1.5" fill="#fff"/>
<polygon points="135.83,174.34 125.98,176.57 126.08,177.76 136.16,178.33" fill="#fff"/>
<polygon points="108.00,195.00 99.00,198.00 91.00,198.70 91.00,201.30 99.00,202.00 108.00,205.00" fill="#000" />
<rect x="106" y="192" width="41" height="16" rx="3" fill="#000"/>
<rect x="108" y="194" width="36.5" height="11.5" rx="1.5" fill="#fff"/>
<polygon points="110.00,198.00 100.00,199.40 100.00,200.60 110.00,202.00" fill="#fff"/>
<polygon points="134.16,214.50 125.26,217.23 118.04,217.70 117.96,220.30 125.14,221.22 133.84,224.50" fill="#000" />
<rect x="132" y="212" width="34" height="15" rx="3" fill="#000"/>
<rect x="133.2" y="213.2" width="31.4" height="12.4" rx="1.5" fill="#fff"/>
<polygon points="136.06,217.56 126.22,218.66 126.18,219.86 135.94,221.56" fill="#fff"/>
<polygon points="127.20,234.16 118.68,230.96 112.83,227.00 111.17,229.00 116.12,234.04 120.80,241.84" fill="#000" />
<rect x="118" y="236" width="31" height="17" rx="3" fill="#000"/>
<rect x="120" y="238" width="26.5" height="12.5" rx="1.5" fill="#fff"/>
<polygon points="126.82,237.74 118.55,232.68 117.78,233.60 124.26,240.82" fill="#fff"/>
<polygon points="123.14,259.36 118.76,264.34 114.52,266.79 115.48,269.21 120.24,268.06 126.86,268.64" fill="#000" />
<rect x="123" y="254" width="33" height="16" rx="3" fill="#000"/>
<rect x="125" y="256" width="28.5" height="11.5" rx="1.5" fill="#fff"/>
<polygon points="126.11,261.40 120.21,265.27 120.65,266.39 127.60,265.11" fill="#fff"/>
<polygon points="49.00,282.00 57.25,279.00 64.00,278.30 64.00,275.70 57.25,275.00 49.00,272.00" fill="#000" />
<rect x="15" y="268" width="36" height="18" rx="3" fill="#000"/>
<rect x="17" y="270" width="31.5" height="13.5" rx="1.5" fill="#fff"/>
<polygon points="47.00,279.00 56.25,277.60 56.25,276.40 47.00,275.00" fill="#fff"/>
<polygon points="144.53,276.53 136.51,278.69 130.14,278.71 129.86,281.29 136.09,282.66 143.47,286.47" fill="#000" />
<rect x="142" y="273" width="37" height="17" rx="3" fill="#000"/>
<rect x="144" y="275" width="32.5" height="12.5" rx="1.5" fill="#fff"/>
<polygon points="146.20,279.72 137.36,280.18 137.23,281.38 145.78,283.70" fill="#fff"/>
<polygon points="70.24,296.47 76.59,289.94 82.58,286.16 81.42,283.84 74.81,286.36 65.76,287.53" fill="#000" />
<rect x="40" y="290" width="34" height="16" rx="3" fill="#000"/>
<rect x="42" y="292" width="29.5" height="11.5" rx="1.5" fill="#fff"/>
<polygon points="67.11,294.68 75.07,289.13 74.54,288.06 65.32,291.11" fill="#fff"/>
<polygon points="125.77,291.84 116.62,289.34 108.72,284.92 107.28,287.08 114.40,292.67 120.23,300.16" fill="#000" />
<rect x="117" y="294" width="32" height="16" rx="3" fill="#000"/>
<rect x="119" y="296" width="27.5" height="11.5" rx="1.5" fill="#fff"/>
<polygon points="125.77,295.45 116.68,291.06 116.01,292.06 123.55,298.77" fill="#fff"/>
<polygon points="99.00,306.00 96.00,297.00 95.30,286.00 92.70,286.00 92.00,297.00 89.00,306.00" fill="#000" />
<rect x="79" y="304" width="31" height="15" rx="3" fill="#000"/>
<rect x="81" y="306" width="26.5" height="10.5" rx="1.5" fill="#fff"/>
<polygon points="96.00,308.00 94.60,298.00 93.40,298.00 92.00,308.00" fill="#fff"/>
<polygon points="78.57,322.02 79.46,312.57 90.19,286.52 87.81,285.48 75.80,310.96 69.43,317.98" fill="#000" />
<rect x="48" y="318" width="32" height="16" rx="3" fill="#000"/>
<rect x="50" y="320" width="27.5" height="11.5" rx="1.5" fill="#fff"/>
<polygon points="75.02,322.64 77.78,312.92 76.68,312.44 71.36,321.02" fill="#fff"/>
<polygon points="120.56,314.94 114.12,307.97 103.18,285.46 100.82,286.54 110.47,309.62 111.44,319.06" fill="#000" />
<rect x="110" y="315" width="31" height="16" rx="3" fill="#000"/>
<rect x="112" y="317" width="26.5" height="11.5" rx="1.5" fill="#fff"/>
<polygon points="118.65,318.00 113.25,309.46 112.16,309.96 115.00,319.65" fill="#fff"/>
<rect x="132" y="338" width="32" height="17" rx="3" fill="#000"/>
<rect x="134" y="340" width="27.5" height="12.5" rx="1.5" fill="#fff"/>
<polygon points="198.56,379.48 207.79,377.28 215.89,377.29 216.11,374.71 208.14,373.30 199.44,369.52" fill="#000" />
<rect x="167" y="367" width="34" height="15" rx="3" fill="#000"/>
<rect x="169" y="369" width="29.5" height="10.5" rx="1.5" fill="#fff"/>
<polygon points="196.83,376.32 206.92,375.80 207.02,374.61 197.18,372.33" fill="#fff"/>
<polygon points="210.46,359.54 218.09,362.91 223.08,366.92 224.92,365.08 220.91,360.09 217.54,352.46" fill="#000" />
<rect x="188" y="342" width="32" height="16" rx="3" fill="#000"/>
<rect x="190" y="344" width="27.5" height="11.5" rx="1.5" fill="#fff"/>
<polygon points="211.17,356.00 218.37,361.22 219.22,360.37 214.00,353.17" fill="#fff"/>
<polygon points="242.23,351.84 236.40,359.33 229.28,364.92 230.72,367.08 238.62,362.66 247.77,360.16" fill="#000" />
<rect x="239" y="342" width="32" height="16" rx="3" fill="#000"/>
<rect x="241" y="344" width="27.5" height="11.5" rx="1.5" fill="#fff"/>
<polygon points="245.55,353.23 238.01,359.94 238.68,360.94 247.77,356.55" fill="#fff"/>
<polygon points="257.00,371.00 248.00,374.00 240.00,374.70 240.00,377.30 248.00,378.00 257.00,381.00" fill="#000" />
<rect x="255" y="367" width="35" height="18" rx="3" fill="#000"/>
<rect x="257" y="369" width="30.5" height="13.5" rx="1.5" fill="#fff"/>
<polygon points="259.00,374.00 249.00,375.40 249.00,376.60 259.00,378.00" fill="#fff"/>
<polygon points="192.00,426.00 189.00,417.00 188.30,408.00 185.70,408.00 185.00,417.00 182.00,426.00" fill="#000" />
<rect x="173" y="424" width="33" height="18" rx="3" fill="#000"/>
<rect x="175" y="426" width="28.5" height="13.5" rx="1.5" fill="#fff"/>
<polygon points="189.00,428.00 187.60,418.00 186.40,418.00 185.00,428.00" fill="#fff"/>
<polygon points="92.42,424.52 83.20,426.76 74.11,426.70 73.89,429.30 82.86,430.75 91.58,434.48" fill="#000" />
<rect x="90" y="420" width="34" height="19" rx="3" fill="#000"/>
<rect x="92" y="422" width="29.5" height="14.5" rx="1.5" fill="#fff"/>
<polygon points="94.16,427.67 84.08,428.24 83.98,429.43 93.83,431.66" fill="#fff"/>
<polygon points="86.16,460.50 77.26,463.23 70.04,463.70 69.96,466.30 77.14,467.22 85.84,470.50" fill="#000" />
<rect x="84" y="456" width="26" height="19" rx="3" fill="#000"/>
<rect x="86" y="458" width="21.5" height="14.5" rx="1.5" fill="#fff"/>
<polygon points="88.06,463.56 78.22,464.66 78.18,465.86 87.94,467.56" fill="#fff"/>
<polygon points="244.46,484.54 251.54,487.36 256.08,490.92 257.92,489.08 254.36,484.54 251.54,477.46" fill="#000" />
<rect x="230" y="466" width="24" height="17" rx="3" fill="#000"/>
<rect x="232" y="468" width="19.5" height="12.5" rx="1.5" fill="#fff"/>
<polygon points="245.17,481.00 251.82,485.67 252.67,484.82 248.00,478.17" fill="#fff"/>
<polygon points="234.29,501.99 243.10,498.47 251.08,497.30 250.92,494.70 242.87,494.47 233.71,492.01" fill="#000" />
<rect x="211" y="488" width="25" height="18" rx="3" fill="#000"/>
<rect x="213" y="490" width="20.5" height="13.5" rx="1.5" fill="#fff"/>
<polygon points="232.12,499.11 242.02,497.13 241.95,495.93 231.89,495.12" fill="#fff"/>
<polygon points="296.36,515.70 300.40,507.98 304.87,502.96 303.13,501.04 297.70,505.02 289.64,508.30" fill="#000" />
<rect x="266" y="510" width="33" height="16" rx="3" fill="#000"/>
<rect x="268" y="512" width="28.5" height="11.5" rx="1.5" fill="#fff"/>
<polygon points="292.87,514.83 298.71,507.62 297.91,506.73 290.17,511.87" fill="#fff"/>
<polygon points="324.00,521.00 321.00,512.00 320.30,502.00 317.70,502.00 317.00,512.00 314.00,521.00" fill="#000" />
<rect x="307" y="519" width="25" height="18" rx="3" fill="#000"/>
<rect x="309" y="521" width="20.5" height="13.5" rx="1.5" fill="#fff"/>
<polygon points="321.00,523.00 319.60,513.00 318.40,513.00 317.00,523.00" fill="#fff"/>
<polygon points="352.12,510.10 343.22,506.82 334.81,500.98 333.19,503.02 340.72,509.94 345.88,517.90" fill="#000" />
<rect x="343" y="512" width="22" height="16" rx="3" fill="#000"/>
<rect x="345" y="514" width="17.5" height="11.5" rx="1.5" fill="#fff"/>
<polygon points="351.81,513.69 343.13,508.53 342.38,509.47 349.31,516.81" fill="#fff"/>
<polygon points="320.00,444.00 323.00,453.00 323.70,464.00 326.30,464.00 327.00,453.00 330.00,444.00" fill="#000" />
<rect x="310" y="430" width="31" height="16" rx="3" fill="#000"/>
<rect x="312" y="432" width="26.5" height="11.5" rx="1.5" fill="#fff"/>
<polygon points="323.00,442.00 324.40,452.00 325.60,452.00 327.00,442.00" fill="#fff"/>
<polygon points="302.48,467.32 310.59,468.58 316.34,471.12 317.66,468.88 312.61,465.12 307.52,458.68" fill="#000" />
<rect x="277" y="447" width="34" height="18" rx="3" fill="#000"/>
<rect x="279" y="449" width="29.5" height="13.5" rx="1.5" fill="#fff"/>
<polygon points="302.26,463.72 310.43,466.86 311.04,465.83 304.28,460.26" fill="#fff"/>
<polygon points="345.52,455.66 339.31,462.66 333.36,466.87 334.64,469.13 341.29,466.14 350.48,464.34" fill="#000" />
<rect x="342" y="446" width="32" height="16" rx="3" fill="#000"/>
<rect x="344" y="448" width="27.5" height="11.5" rx="1.5" fill="#fff"/>
<polygon points="348.74,457.27 340.87,463.38 341.47,464.42 350.73,460.74" fill="#fff"/>
<polygon points="392.00,460.00 395.00,469.00 395.70,480.00 398.30,480.00 399.00,469.00 402.00,460.00" fill="#000" />
<rect x="377" y="446" width="41" height="16" rx="3" fill="#000"/>
<rect x="379" y="448" width="36.5" height="11.5" rx="1.5" fill="#fff"/>
<polygon points="395.00,458.00 396.40,468.00 397.60,468.00 399.00,458.00" fill="#fff"/>
<polygon points="518.00,460.00 521.00,469.00 521.70,480.00 524.30,480.00 525.00,469.00 528.00,460.00" fill="#000" />
<rect x="503" y="446" width="42" height="16" rx="3" fill="#000"/>
<rect x="505" y="448" width="37.5" height="11.5" rx="1.5" fill="#fff"/>
<polygon points="521.00,458.00 522.40,468.00 523.60,468.00 525.00,458.00" fill="#fff"/>
<polygon points="432.00,530.00 429.00,521.00 428.30,509.00 425.70,509.00 425.00,521.00 422.00,530.00" fill="#000" />
<rect x="407" y="528" width="43" height="17" rx="3" fill="#000"/>
<rect x="409" y="530" width="38.5" height="12.5" rx="1.5" fill="#fff"/>
<polygon points="429.00,532.00 427.60,522.00 426.40,522.00 425.00,532.00" fill="#fff"/>
<polygon points="547.00,529.00 544.00,520.00 543.30,509.00 540.70,509.00 540.00,520.00 537.00,529.00" fill="#000" />
<rect x="527" y="527" width="32" height="16" rx="3" fill="#000"/>
<rect x="529" y="529" width="27.5" height="11.5" rx="1.5" fill="#fff"/>
<polygon points="544.00,531.00 542.60,521.00 541.40,521.00 540.00,531.00" fill="#fff"/>
<rect x="424" y="386" width="58" height="18" rx="3" fill="#000"/>
<rect x="426" y="388" width="53.5" height="13.5" rx="1.5" fill="#fff"/>
<rect x="424" y="404" width="58" height="17" rx="3" fill="#000"/>
<rect x="426" y="406" width="53.5" height="12.5" rx="1.5" fill="#fff"/>
<rect x="424" y="421" width="58" height="17" rx="3" fill="#000"/>
<rect x="426" y="423" width="53.5" height="12.5" rx="1.5" fill="#fff"/>
<rect x="424" y="439" width="58" height="17" rx="3" fill="#000"/>
<rect x="426" y="441" width="53.5" height="12.5" rx="1.5" fill="#fff"/>
<polygon points="504.00,370.00 513.00,367.00 521.00,366.30 521.00,363.70 513.00,363.00 504.00,360.00" fill="#000" />
<rect x="480" y="356" width="26" height="18" rx="3" fill="#000"/>
<rect x="482" y="358" width="21.5" height="13.5" rx="1.5" fill="#fff"/>
<polygon points="502.00,367.00 512.00,365.60 512.00,364.40 502.00,363.00" fill="#fff"/>
<polygon points="519.00,387.00 523.80,379.65 528.78,375.04 527.22,372.96 521.40,376.45 513.00,379.00" fill="#000" />
<rect x="499" y="381" width="23" height="16" rx="3" fill="#000"/>
<rect x="501" y="383" width="18.5" height="11.5" rx="1.5" fill="#fff"/>
<polygon points="515.60,385.80 522.16,379.13 521.44,378.17 513.20,382.60" fill="#fff"/>
<polygon points="540.00,394.00 537.00,385.00 536.30,374.00 533.70,374.00 533.00,385.00 530.00,394.00" fill="#000" />
<rect x="527" y="392" width="23" height="16" rx="3" fill="#000"/>
<rect x="529" y="394" width="18.5" height="11.5" rx="1.5" fill="#fff"/>
<polygon points="537.00,396.00 535.60,386.00 534.40,386.00 533.00,396.00" fill="#fff"/>
<polygon points="524.46,350.54 531.54,353.36 536.08,356.92 537.92,355.08 534.36,350.54 531.54,343.46" fill="#000" />
<rect x="509" y="332" width="25" height="17" rx="3" fill="#000"/>
<rect x="511" y="334" width="20.5" height="12.5" rx="1.5" fill="#fff"/>
<polygon points="525.17,347.00 531.82,351.67 532.67,350.82 528.00,344.17" fill="#fff"/>
<polygon points="542.00,337.00 545.00,346.00 545.70,356.00 548.30,356.00 549.00,346.00 552.00,337.00" fill="#000" />
<rect x="535" y="322" width="25" height="17" rx="3" fill="#000"/>
<rect x="537" y="324" width="20.5" height="12.5" rx="1.5" fill="#fff"/>
<polygon points="545.00,335.00 546.40,345.00 547.60,345.00 549.00,335.00" fill="#fff"/>
<polygon points="565.23,341.84 559.40,349.33 552.28,354.92 553.72,357.08 561.62,352.66 570.77,350.16" fill="#000" />
<rect x="562" y="331" width="23" height="17" rx="3" fill="#000"/>
<rect x="564" y="333" width="18.5" height="12.5" rx="1.5" fill="#fff"/>
<polygon points="568.55,343.23 561.01,349.94 561.68,350.94 570.77,346.55" fill="#fff"/>
<polygon points="563.00,392.00 560.00,383.00 559.30,374.00 556.70,374.00 556.00,383.00 553.00,392.00" fill="#000" />
<rect x="550" y="390" width="23" height="16" rx="3" fill="#000"/>
<rect x="552" y="392" width="18.5" height="11.5" rx="1.5" fill="#fff"/>
<polygon points="560.00,394.00 558.60,384.00 557.40,384.00 556.00,394.00" fill="#fff"/>
<polygon points="580.54,380.46 572.05,376.22 565.92,371.08 564.08,372.92 569.22,379.05 573.46,387.54" fill="#000" />
<rect x="575" y="378" width="25" height="17" rx="3" fill="#000"/>
<rect x="577" y="380" width="20.5" height="12.5" rx="1.5" fill="#fff"/>
<polygon points="579.83,384.00 571.77,377.92 570.92,378.77 577.00,386.83" fill="#fff"/>
<polygon points="590.71,358.01 581.90,361.53 573.92,362.70 574.08,365.30 582.13,365.53 591.29,367.99" fill="#000" />
<rect x="589" y="354" width="25" height="18" rx="3" fill="#000"/>
<rect x="591" y="356" width="20.5" height="13.5" rx="1.5" fill="#fff"/>
<polygon points="592.88,360.89 582.98,362.87 583.05,364.07 593.11,364.88" fill="#fff"/>
<polygon points="586.86,431.50 595.94,428.75 604.96,428.30 605.04,425.70 596.05,424.75 587.14,421.50" fill="#000" />
<rect x="556" y="418" width="33" height="17" rx="3" fill="#000"/>
<rect x="558" y="420" width="28.5" height="12.5" rx="1.5" fill="#fff"/>
<polygon points="584.95,428.44 594.98,427.32 595.01,426.12 585.06,424.45" fill="#fff"/>
<polygon points="625.85,485.89 616.99,483.41 610.74,479.93 609.26,482.07 614.71,486.69 620.15,494.11" fill="#000" />
<rect x="617" y="488" width="33" height="18" rx="3" fill="#000"/>
<rect x="619" y="490" width="28.5" height="13.5" rx="1.5" fill="#fff"/>
<polygon points="625.78,489.49 617.01,485.13 616.33,486.11 623.51,492.78" fill="#fff"/>
<rect x="661" y="393" width="30" height="18" rx="3" fill="#000"/>
<rect x="663" y="395" width="25.5" height="13.5" rx="1.5" fill="#fff"/>
<polygon points="654.85,299.50 663.94,296.76 671.96,296.30 672.04,293.70 664.05,292.77 655.15,289.50" fill="#000" />
<rect x="622" y="286" width="35" height="17" rx="3" fill="#000"/>
<rect x="624" y="288" width="30.5" height="12.5" rx="1.5" fill="#fff"/>
<polygon points="652.94,296.44 662.98,295.33 663.01,294.14 653.06,292.44" fill="#fff"/>
<polygon points="702.00,351.00 693.00,354.00 685.00,354.70 685.00,357.30 693.00,358.00 702.00,361.00" fill="#000" />
<rect x="700" y="347" width="36" height="18" rx="3" fill="#000"/>
<rect x="702" y="349" width="31.5" height="13.5" rx="1.5" fill="#fff"/>
<polygon points="704.00,354.00 694.00,355.40 694.00,356.60 704.00,358.00" fill="#fff"/>
<polygon points="566.00,265.00 569.00,274.00 569.70,283.00 572.30,283.00 573.00,274.00 576.00,265.00" fill="#000" />
<rect x="556" y="249" width="33" height="18" rx="3" fill="#000"/>
<rect x="558" y="251" width="28.5" height="13.5" rx="1.5" fill="#fff"/>
<polygon points="569.00,263.00 570.40,273.00 571.60,273.00 573.00,263.00" fill="#fff"/>
<polygon points="645.30,209.21 654.49,211.55 661.30,215.09 662.70,212.91 656.65,208.18 650.70,200.79" fill="#000" />
<rect x="621" y="189" width="33" height="18" rx="3" fill="#000"/>
<rect x="623" y="191" width="28.5" height="13.5" rx="1.5" fill="#fff"/>
<polygon points="645.24,205.60 654.40,209.83 655.05,208.82 647.40,202.24" fill="#fff"/>
<polygon points="690.15,200.89 684.71,208.31 679.26,212.93 680.74,215.07 686.99,211.59 695.85,209.11" fill="#000" />
<rect x="687" y="189" width="33" height="18" rx="3" fill="#000"/>
<rect x="689" y="191" width="28.5" height="13.5" rx="1.5" fill="#fff"/>
<polygon points="693.51,202.22 686.33,208.89 687.01,209.87 695.78,205.51" fill="#fff"/>
<polygon points="635.58,227.48 644.80,225.24 653.89,225.30 654.11,222.70 645.14,221.25 636.42,217.52" fill="#000" />
<rect x="603" y="214" width="35" height="17" rx="3" fill="#000"/>
<rect x="605" y="216" width="30.5" height="12.5" rx="1.5" fill="#fff"/>
<polygon points="633.84,224.33 643.92,223.76 644.02,222.57 634.17,220.34" fill="#fff"/>
<polygon points="706.00,219.00 697.00,222.00 689.00,222.70 689.00,225.30 697.00,226.00 706.00,229.00" fill="#000" />
<rect x="704" y="216" width="35" height="16" rx="3" fill="#000"/>
<rect x="706" y="218" width="30.5" height="11.5" rx="1.5" fill="#fff"/>
<polygon points="708.00,222.00 698.00,223.40 698.00,224.60 708.00,226.00" fill="#fff"/>
<polygon points="662.39,248.67 666.97,240.37 672.88,233.96 671.12,232.04 664.26,237.43 655.61,241.33" fill="#000" />
<rect x="629" y="239" width="32" height="18" rx="3" fill="#000"/>
<rect x="631" y="241" width="27.5" height="13.5" rx="1.5" fill="#fff"/>
<polygon points="658.89,247.83 665.29,240.01 664.47,239.13 656.17,244.89" fill="#fff"/>
<polygon points="690.48,236.66 681.29,234.86 674.64,231.87 673.36,234.13 679.31,238.34 685.52,245.34" fill="#000" />
<rect x="682" y="239" width="33" height="18" rx="3" fill="#000"/>
<rect x="684" y="241" width="28.5" height="13.5" rx="1.5" fill="#fff"/>
<polygon points="690.73,240.26 681.47,236.58 680.87,237.62 688.74,243.73" fill="#fff"/>
<polygon points="659.15,37.11 668.01,39.59 674.26,43.07 675.74,40.93 670.29,36.31 664.85,28.89" fill="#000" />
<rect x="635" y="18" width="33" height="17" rx="3" fill="#000"/>
<rect x="637" y="20" width="28.5" height="12.5" rx="1.5" fill="#fff"/>
<polygon points="659.22,33.51 667.99,37.87 668.67,36.89 661.49,30.22" fill="#fff"/>
<polygon points="635.88,55.87 643.70,54.60 649.71,55.27 650.29,52.73 644.60,50.70 638.12,46.13" fill="#000" />
<rect x="610" y="43" width="29" height="16" rx="3" fill="#000"/>
<rect x="612" y="45" width="24.5" height="11.5" rx="1.5" fill="#fff"/>
<polygon points="634.60,52.50 643.04,53.01 643.31,51.84 635.50,48.60" fill="#fff"/>
<polygon points="636.00,75.00 643.70,72.00 650.00,71.30 650.00,68.70 643.70,68.00 636.00,65.00" fill="#000" />
<rect x="610" y="62" width="28" height="16" rx="3" fill="#000"/>
<rect x="612" y="64" width="23.5" height="11.5" rx="1.5" fill="#fff"/>
<polygon points="634.00,72.00 642.70,70.60 642.70,69.40 634.00,68.00" fill="#fff"/>
<polygon points="339.15,19.50 330.06,22.24 322.04,22.70 321.96,25.30 329.95,26.23 338.85,29.50" fill="#000" />
<rect x="337" y="15" width="25" height="19" rx="3" fill="#000"/>
<rect x="339" y="17" width="20.5" height="14.5" rx="1.5" fill="#fff"/>
<polygon points="341.06,22.56 331.02,23.67 330.99,24.86 340.94,26.56" fill="#fff"/>
<polygon points="352.00,42.00 343.75,45.00 337.00,45.70 337.00,48.30 343.75,49.00 352.00,52.00" fill="#000" />
<rect x="350" y="38" width="27" height="18" rx="3" fill="#000"/>
<rect x="352" y="40" width="22.5" height="13.5" rx="1.5" fill="#fff"/>
<polygon points="354.00,45.00 344.75,46.40 344.75,47.60 354.00,49.00" fill="#fff"/>
<rect x="193" y="172" width="31" height="16" rx="3" fill="#000"/>
<rect x="194.2" y="173.2" width="28.4" height="13.4" rx="1.5" fill="#fff"/>
<rect x="193" y="216" width="31" height="15" rx="3" fill="#000"/>
<rect x="194.2" y="217.2" width="28.4" height="12.4" rx="1.5" fill="#fff"/>
<rect x="237" y="258" width="30" height="19" rx="3" fill="#000"/>
<rect x="238.2" y="259.2" width="27.4" height="16.4" rx="1.5" fill="#fff"/>
<rect x="186" y="99" width="48" height="15" rx="3" fill="#000"/>
<rect x="188" y="101" width="43.5" height="10.5" rx="1.5" fill="#fff"/>
<rect x="154" y="73" width="17" height="75" rx="3" fill="#000"/>
<rect x="156" y="75" width="14" height="72" rx="1.5" fill="#fff"/>
<rect x="244" y="73" width="17" height="75" rx="3" fill="#000"/>
<rect x="246" y="75" width="14" height="72" rx="1.5" fill="#fff"/>
<g filter="url(#th)">
<text x="161.5" y="41.3" font-size="13.5" text-anchor="middle" fill="#000" letter-spacing="2" font-weight="normal"  transform="matrix(0.82,0,0,1,29.070,0)">BIOS</text>
<text x="669.5" y="151" font-size="13.5" text-anchor="middle" fill="#000" letter-spacing="2.3" font-weight="normal"  transform="matrix(0.82,0,0,1,120.510,0)">KBD</text>
<text x="533" y="73" font-size="12.5" text-anchor="middle" fill="#000" letter-spacing="1.5" font-weight="normal" textLength="51.71" lengthAdjust="spacingAndGlyphs" transform="matrix(0.82,0,0,1,95.940,0)">MH2544</text>
<text x="20.5" y="48.1" font-size="13" text-anchor="middle" fill="#000" letter-spacing="2" font-weight="normal"  transform="matrix(0.82,0,0,1,3.690,0)">J16</text>
<text x="20.5" y="78.6" font-size="13" text-anchor="middle" fill="#000" letter-spacing="2" font-weight="normal"  transform="matrix(0.82,0,0,1,3.690,0)">J15</text>
<text x="20.5" y="104.1" font-size="13" text-anchor="middle" fill="#000" letter-spacing="2" font-weight="normal"  transform="matrix(0.82,0,0,1,3.690,0)">J14</text>
<text x="20.5" y="123.1" font-size="13" text-anchor="middle" fill="#000" letter-spacing="2" font-weight="normal"  transform="matrix(0.82,0,0,1,3.690,0)">J13</text>
<text x="20.0" y="143.6" font-size="13" text-anchor="middle" fill="#000" letter-spacing="2" font-weight="normal"  transform="matrix(0.82,0,0,1,3.600,0)">J12</text>
<text x="27.5" y="170.6" font-size="13" text-anchor="middle" fill="#000" letter-spacing="2" font-weight="normal"  transform="matrix(0.82,0,0,1,4.950,0)">J23</text>
<text x="27.5" y="190.6" font-size="13" text-anchor="middle" fill="#000" letter-spacing="2" font-weight="normal"  transform="matrix(0.82,0,0,1,4.950,0)">J24</text>
<text x="32.0" y="209.1" font-size="13" text-anchor="middle" fill="#000" letter-spacing="2" font-weight="normal"  transform="matrix(0.82,0,0,1,5.760,0)">RN22</text>
<text x="48.0" y="246.6" font-size="13" text-anchor="middle" fill="#000" letter-spacing="2" font-weight="normal" textLength="39.02" lengthAdjust="spacingAndGlyphs" transform="matrix(0.82,0,0,1,8.640,0)">RN21</text>
<text x="94.0" y="259.6" font-size="13" text-anchor="middle" fill="#000" letter-spacing="2" font-weight="normal"  transform="matrix(0.82,0,0,1,16.920,0)">JCX2</text>
<text x="96.5" y="150.1" font-size="13" text-anchor="middle" fill="#000" letter-spacing="2" font-weight="normal"  transform="matrix(0.82,0,0,1,17.370,0)">JS3</text>
<text x="130.0" y="160.6" font-size="13" text-anchor="middle" fill="#000" letter-spacing="2" font-weight="normal"  transform="matrix(0.82,0,0,1,23.400,0)">JS2</text>
<text x="148.0" y="181.1" font-size="13" text-anchor="middle" fill="#000" letter-spacing="2" font-weight="normal"  transform="matrix(0.82,0,0,1,26.640,0)">JS1</text>
<text x="126.0" y="204.6" font-size="13" text-anchor="middle" fill="#000" letter-spacing="2" font-weight="normal"  transform="matrix(0.82,0,0,1,22.680,0)">RN20</text>
<text x="148.5" y="224.1" font-size="13" text-anchor="middle" fill="#000" letter-spacing="2" font-weight="normal"  transform="matrix(0.82,0,0,1,26.730,0)">JV2</text>
<text x="133.0" y="249.1" font-size="13" text-anchor="middle" fill="#000" letter-spacing="2" font-weight="normal"  transform="matrix(0.82,0,0,1,23.940,0)">JV3</text>
<text x="139.0" y="266.6" font-size="13" text-anchor="middle" fill="#000" letter-spacing="2" font-weight="normal"  transform="matrix(0.82,0,0,1,25.020,0)">JC6</text>
<text x="32.5" y="281.6" font-size="13" text-anchor="middle" fill="#000" letter-spacing="2" font-weight="normal"  transform="matrix(0.82,0,0,1,5.850,0)">J20</text>
<text x="160.0" y="286.1" font-size="13" text-anchor="middle" fill="#000" letter-spacing="2" font-weight="normal"  transform="matrix(0.82,0,0,1,28.800,0)">J30</text>
<text x="56.5" y="302.6" font-size="13" text-anchor="middle" fill="#000" letter-spacing="2" font-weight="normal"  transform="matrix(0.82,0,0,1,10.170,0)">JC1</text>
<text x="132.5" y="306.6" font-size="13" text-anchor="middle" fill="#000" letter-spacing="2" font-weight="normal"  transform="matrix(0.82,0,0,1,23.850,0)">JC5</text>
<text x="94.0" y="316.1" font-size="13" text-anchor="middle" fill="#000" letter-spacing="2" font-weight="normal"  transform="matrix(0.82,0,0,1,16.920,0)">JC3</text>
<text x="63.5" y="330.6" font-size="13" text-anchor="middle" fill="#000" letter-spacing="2" font-weight="normal"  transform="matrix(0.82,0,0,1,11.430,0)">JC2</text>
<text x="125.0" y="327.6" font-size="13" text-anchor="middle" fill="#000" letter-spacing="2" font-weight="normal"  transform="matrix(0.82,0,0,1,22.500,0)">JC4</text>
<text x="147.5" y="351.1" font-size="13" text-anchor="middle" fill="#000" letter-spacing="2" font-weight="normal"  transform="matrix(0.82,0,0,1,26.550,0)">CPU</text>
<text x="183.5" y="379.1" font-size="13" text-anchor="middle" fill="#000" letter-spacing="2" font-weight="normal"  transform="matrix(0.82,0,0,1,33.030,0)">JK4</text>
<text x="203.5" y="354.6" font-size="13" text-anchor="middle" fill="#000" letter-spacing="2" font-weight="normal"  transform="matrix(0.82,0,0,1,36.630,0)">JK3</text>
<text x="254.5" y="354.6" font-size="13" text-anchor="middle" fill="#000" letter-spacing="2" font-weight="normal"  transform="matrix(0.82,0,0,1,45.810,0)">JK2</text>
<text x="272.0" y="380.6" font-size="13" text-anchor="middle" fill="#000" letter-spacing="2" font-weight="normal"  transform="matrix(0.82,0,0,1,48.960,0)">JK1</text>
<text x="189.0" y="437.6" font-size="13" text-anchor="middle" fill="#000" letter-spacing="2" font-weight="normal"  transform="matrix(0.82,0,0,1,34.020,0)">JT1</text>
<text x="106.5" y="434.1" font-size="13" text-anchor="middle" fill="#000" letter-spacing="2" font-weight="normal"  transform="matrix(0.82,0,0,1,19.170,0)">PS1</text>
<text x="96.5" y="470.1" font-size="13" text-anchor="middle" fill="#000" letter-spacing="2" font-weight="normal"  transform="matrix(0.82,0,0,1,17.370,0)">J4</text>
<text x="241.5" y="479.1" font-size="13" text-anchor="middle" fill="#000" letter-spacing="2" font-weight="normal"  transform="matrix(0.82,0,0,1,43.470,0)">J6</text>
<text x="223.0" y="501.6" font-size="13" text-anchor="middle" fill="#000" letter-spacing="2" font-weight="normal"  transform="matrix(0.82,0,0,1,40.140,0)">J5</text>
<text x="282.0" y="522.6" font-size="13" text-anchor="middle" fill="#000" letter-spacing="2" font-weight="normal"  transform="matrix(0.82,0,0,1,50.760,0)">J10</text>
<text x="319.0" y="532.6" font-size="13" text-anchor="middle" fill="#000" letter-spacing="2" font-weight="normal"  transform="matrix(0.82,0,0,1,57.420,0)">J9</text>
<text x="353.5" y="524.6" font-size="13" text-anchor="middle" fill="#000" letter-spacing="2" font-weight="normal"  transform="matrix(0.82,0,0,1,63.630,0)">J8</text>
<text x="325.0" y="442.6" font-size="13" text-anchor="middle" fill="#000" letter-spacing="2" font-weight="normal"  transform="matrix(0.82,0,0,1,58.500,0)">J26</text>
<text x="293.5" y="460.6" font-size="13" text-anchor="middle" fill="#000" letter-spacing="2" font-weight="normal"  transform="matrix(0.82,0,0,1,52.830,0)">J25</text>
<text x="357.5" y="458.6" font-size="13" text-anchor="middle" fill="#000" letter-spacing="2" font-weight="normal"  transform="matrix(0.82,0,0,1,64.350,0)">J27</text>
<text x="397.0" y="458.6" font-size="13" text-anchor="middle" fill="#000" letter-spacing="2" font-weight="normal"  transform="matrix(0.82,0,0,1,71.460,0)">CN12</text>
<text x="523.5" y="458.6" font-size="13" text-anchor="middle" fill="#000" letter-spacing="2" font-weight="normal"  transform="matrix(0.82,0,0,1,94.230,0)">CN10</text>
<text x="428.0" y="541.1" font-size="13" text-anchor="middle" fill="#000" letter-spacing="2" font-weight="normal"  transform="matrix(0.82,0,0,1,77.040,0)">CN11</text>
<text x="542.5" y="539.6" font-size="13" text-anchor="middle" fill="#000" letter-spacing="2" font-weight="normal"  transform="matrix(0.82,0,0,1,97.650,0)">CN9</text>
<text x="452.5" y="399.6" font-size="13" text-anchor="middle" fill="#000" letter-spacing="2" font-weight="normal"  transform="matrix(0.82,0,0,1,81.450,0)">BANK 3</text>
<text x="452.5" y="417.1" font-size="13" text-anchor="middle" fill="#000" letter-spacing="2" font-weight="normal"  transform="matrix(0.82,0,0,1,81.450,0)">BANK 2</text>
<text x="452.5" y="434.1" font-size="13" text-anchor="middle" fill="#000" letter-spacing="2" font-weight="normal"  transform="matrix(0.82,0,0,1,81.450,0)">BANK 1</text>
<text x="452.5" y="452.1" font-size="13" text-anchor="middle" fill="#000" letter-spacing="2" font-weight="normal"  transform="matrix(0.82,0,0,1,81.450,0)">BANK 0</text>
<text x="492.5" y="369.6" font-size="13" text-anchor="middle" fill="#000" letter-spacing="2" font-weight="normal"  transform="matrix(0.82,0,0,1,88.650,0)">JA</text>
<text x="510.0" y="393.6" font-size="13" text-anchor="middle" fill="#000" letter-spacing="2" font-weight="normal"  transform="matrix(0.82,0,0,1,91.800,0)">JB</text>
<text x="538.0" y="404.6" font-size="13" text-anchor="middle" fill="#000" letter-spacing="2" font-weight="normal"  transform="matrix(0.82,0,0,1,96.840,0)">JC</text>
<text x="521.0" y="345.1" font-size="13" text-anchor="middle" fill="#000" letter-spacing="2" font-weight="normal"  transform="matrix(0.82,0,0,1,93.780,0)">JD</text>
<text x="547.0" y="335.1" font-size="13" text-anchor="middle" fill="#000" letter-spacing="2" font-weight="normal"  transform="matrix(0.82,0,0,1,98.460,0)">JE</text>
<text x="573.0" y="344.1" font-size="13" text-anchor="middle" fill="#000" letter-spacing="2" font-weight="normal"  transform="matrix(0.82,0,0,1,103.140,0)">JF</text>
<text x="561.0" y="402.6" font-size="13" text-anchor="middle" fill="#000" letter-spacing="2" font-weight="normal"  transform="matrix(0.82,0,0,1,100.980,0)">JG</text>
<text x="587.0" y="391.1" font-size="13" text-anchor="middle" fill="#000" letter-spacing="2" font-weight="normal"  transform="matrix(0.82,0,0,1,105.660,0)">JH</text>
<text x="601.0" y="367.6" font-size="13" text-anchor="middle" fill="#000" letter-spacing="2" font-weight="normal"  transform="matrix(0.82,0,0,1,108.180,0)">JI</text>
<text x="572.0" y="431.1" font-size="13" text-anchor="middle" fill="#000" letter-spacing="2" font-weight="normal"  transform="matrix(0.82,0,0,1,102.960,0)">CN8</text>
<text x="633.0" y="501.6" font-size="13" text-anchor="middle" fill="#000" letter-spacing="2" font-weight="normal"  transform="matrix(0.82,0,0,1,113.940,0)">CN7</text>
<text x="675.5" y="406.6" font-size="13" text-anchor="middle" fill="#000" letter-spacing="2" font-weight="normal"  transform="matrix(0.82,0,0,1,121.590,0)">CN4</text>
<text x="639.0" y="299.1" font-size="13" text-anchor="middle" fill="#000" letter-spacing="2" font-weight="normal"  transform="matrix(0.82,0,0,1,115.020,0)">CN2</text>
<text x="717.5" y="360.6" font-size="13" text-anchor="middle" fill="#000" letter-spacing="2" font-weight="normal"  transform="matrix(0.82,0,0,1,129.150,0)">CN1</text>
<text x="572.0" y="262.6" font-size="13" text-anchor="middle" fill="#000" letter-spacing="2" font-weight="normal"  transform="matrix(0.82,0,0,1,102.960,0)">J31</text>
<text x="637.0" y="202.6" font-size="13" text-anchor="middle" fill="#000" letter-spacing="2" font-weight="normal"  transform="matrix(0.82,0,0,1,114.660,0)">JW5</text>
<text x="703.0" y="202.6" font-size="13" text-anchor="middle" fill="#000" letter-spacing="2" font-weight="normal"  transform="matrix(0.82,0,0,1,126.540,0)">JW2</text>
<text x="620.0" y="227.1" font-size="13" text-anchor="middle" fill="#000" letter-spacing="2" font-weight="normal"  transform="matrix(0.82,0,0,1,111.600,0)">JW6</text>
<text x="721.0" y="228.6" font-size="13" text-anchor="middle" fill="#000" letter-spacing="2" font-weight="normal"  transform="matrix(0.82,0,0,1,129.780,0)">JW1</text>
<text x="644.5" y="252.6" font-size="13" text-anchor="middle" fill="#000" letter-spacing="2" font-weight="normal"  transform="matrix(0.82,0,0,1,116.010,0)">JW4</text>
<text x="698.0" y="252.6" font-size="13" text-anchor="middle" fill="#000" letter-spacing="2" font-weight="normal"  transform="matrix(0.82,0,0,1,125.640,0)">JW3</text>
<text x="651.0" y="31.1" font-size="13" text-anchor="middle" fill="#000" letter-spacing="2" font-weight="normal"  transform="matrix(0.82,0,0,1,117.180,0)">J17</text>
<text x="624.0" y="55.6" font-size="13" text-anchor="middle" fill="#000" letter-spacing="2" font-weight="normal"  transform="matrix(0.82,0,0,1,112.320,0)">J2</text>
<text x="623.5" y="74.6" font-size="13" text-anchor="middle" fill="#000" letter-spacing="2" font-weight="normal"  transform="matrix(0.82,0,0,1,112.230,0)">J7</text>
<text x="349.0" y="29.1" font-size="13" text-anchor="middle" fill="#000" letter-spacing="2" font-weight="normal"  transform="matrix(0.82,0,0,1,62.820,0)">J3</text>
<text x="363.0" y="51.6" font-size="13" text-anchor="middle" fill="#000" letter-spacing="2" font-weight="normal"  transform="matrix(0.82,0,0,1,65.340,0)">J1</text>
<text x="208.0" y="184.6" font-size="13" text-anchor="middle" fill="#000" letter-spacing="2" font-weight="normal"  transform="matrix(0.82,0,0,1,37.440,0)">SL1</text>
<text x="208.0" y="228.1" font-size="13" text-anchor="middle" fill="#000" letter-spacing="2" font-weight="normal"  transform="matrix(0.82,0,0,1,37.440,0)">SL2</text>
<text x="251.5" y="272.1" font-size="13" text-anchor="middle" fill="#000" letter-spacing="2" font-weight="normal"  transform="matrix(0.82,0,0,1,45.270,0)">TAG</text>
<text x="209.5" y="111.1" font-size="13" text-anchor="middle" fill="#000" letter-spacing="2" font-weight="normal" textLength="52.44" lengthAdjust="spacingAndGlyphs" transform="matrix(0.82,0,0,1,37.710,0)">CACHE</text>
<text x="162.5" y="86.2" font-size="12.5" text-anchor="middle" fill="#000" letter-spacing="0" font-weight="normal"  transform="matrix(0.85,0,0,1,24.375,0)">B</text>
<text x="162.5" y="101.10000000000001" font-size="12.5" text-anchor="middle" fill="#000" letter-spacing="0" font-weight="normal"  transform="matrix(0.85,0,0,1,24.375,0)">A</text>
<text x="162.5" y="116.0" font-size="12.5" text-anchor="middle" fill="#000" letter-spacing="0" font-weight="normal"  transform="matrix(0.85,0,0,1,24.375,0)">N</text>
<text x="162.5" y="130.9" font-size="12.5" text-anchor="middle" fill="#000" letter-spacing="0" font-weight="normal"  transform="matrix(0.85,0,0,1,24.375,0)">K</text>
<text x="162.5" y="145.8" font-size="12.5" text-anchor="middle" fill="#000" letter-spacing="0" font-weight="normal"  transform="matrix(0.85,0,0,1,24.375,0)">1</text>
<text x="252.5" y="86.2" font-size="12.5" text-anchor="middle" fill="#000" letter-spacing="0" font-weight="normal"  transform="matrix(0.85,0,0,1,37.875,0)">B</text>
<text x="252.5" y="101.10000000000001" font-size="12.5" text-anchor="middle" fill="#000" letter-spacing="0" font-weight="normal"  transform="matrix(0.85,0,0,1,37.875,0)">A</text>
<text x="252.5" y="116.0" font-size="12.5" text-anchor="middle" fill="#000" letter-spacing="0" font-weight="normal"  transform="matrix(0.85,0,0,1,37.875,0)">N</text>
<text x="252.5" y="130.9" font-size="12.5" text-anchor="middle" fill="#000" letter-spacing="0" font-weight="normal"  transform="matrix(0.85,0,0,1,37.875,0)">K</text>
<text x="252.5" y="145.8" font-size="12.5" text-anchor="middle" fill="#000" letter-spacing="0" font-weight="normal"  transform="matrix(0.85,0,0,1,37.875,0)">0</text>
</g>
<g filter="url(#thw)">
<text x="236" y="26" font-size="12" text-anchor="start" fill="#fff" letter-spacing="0" font-weight="bold" textLength="46" lengthAdjust="spacingAndGlyphs">DALLAS</text>
<text x="236" y="37" font-size="11.5" text-anchor="start" fill="#fff" letter-spacing="0" font-weight="bold" textLength="39" lengthAdjust="spacingAndGlyphs">DS1287</text>
<text x="236" y="48" font-size="12" text-anchor="start" fill="#fff" letter-spacing="0" font-weight="bold" textLength="51" lengthAdjust="spacingAndGlyphs">REAL TIME</text>
</g>
</svg></body></html>
